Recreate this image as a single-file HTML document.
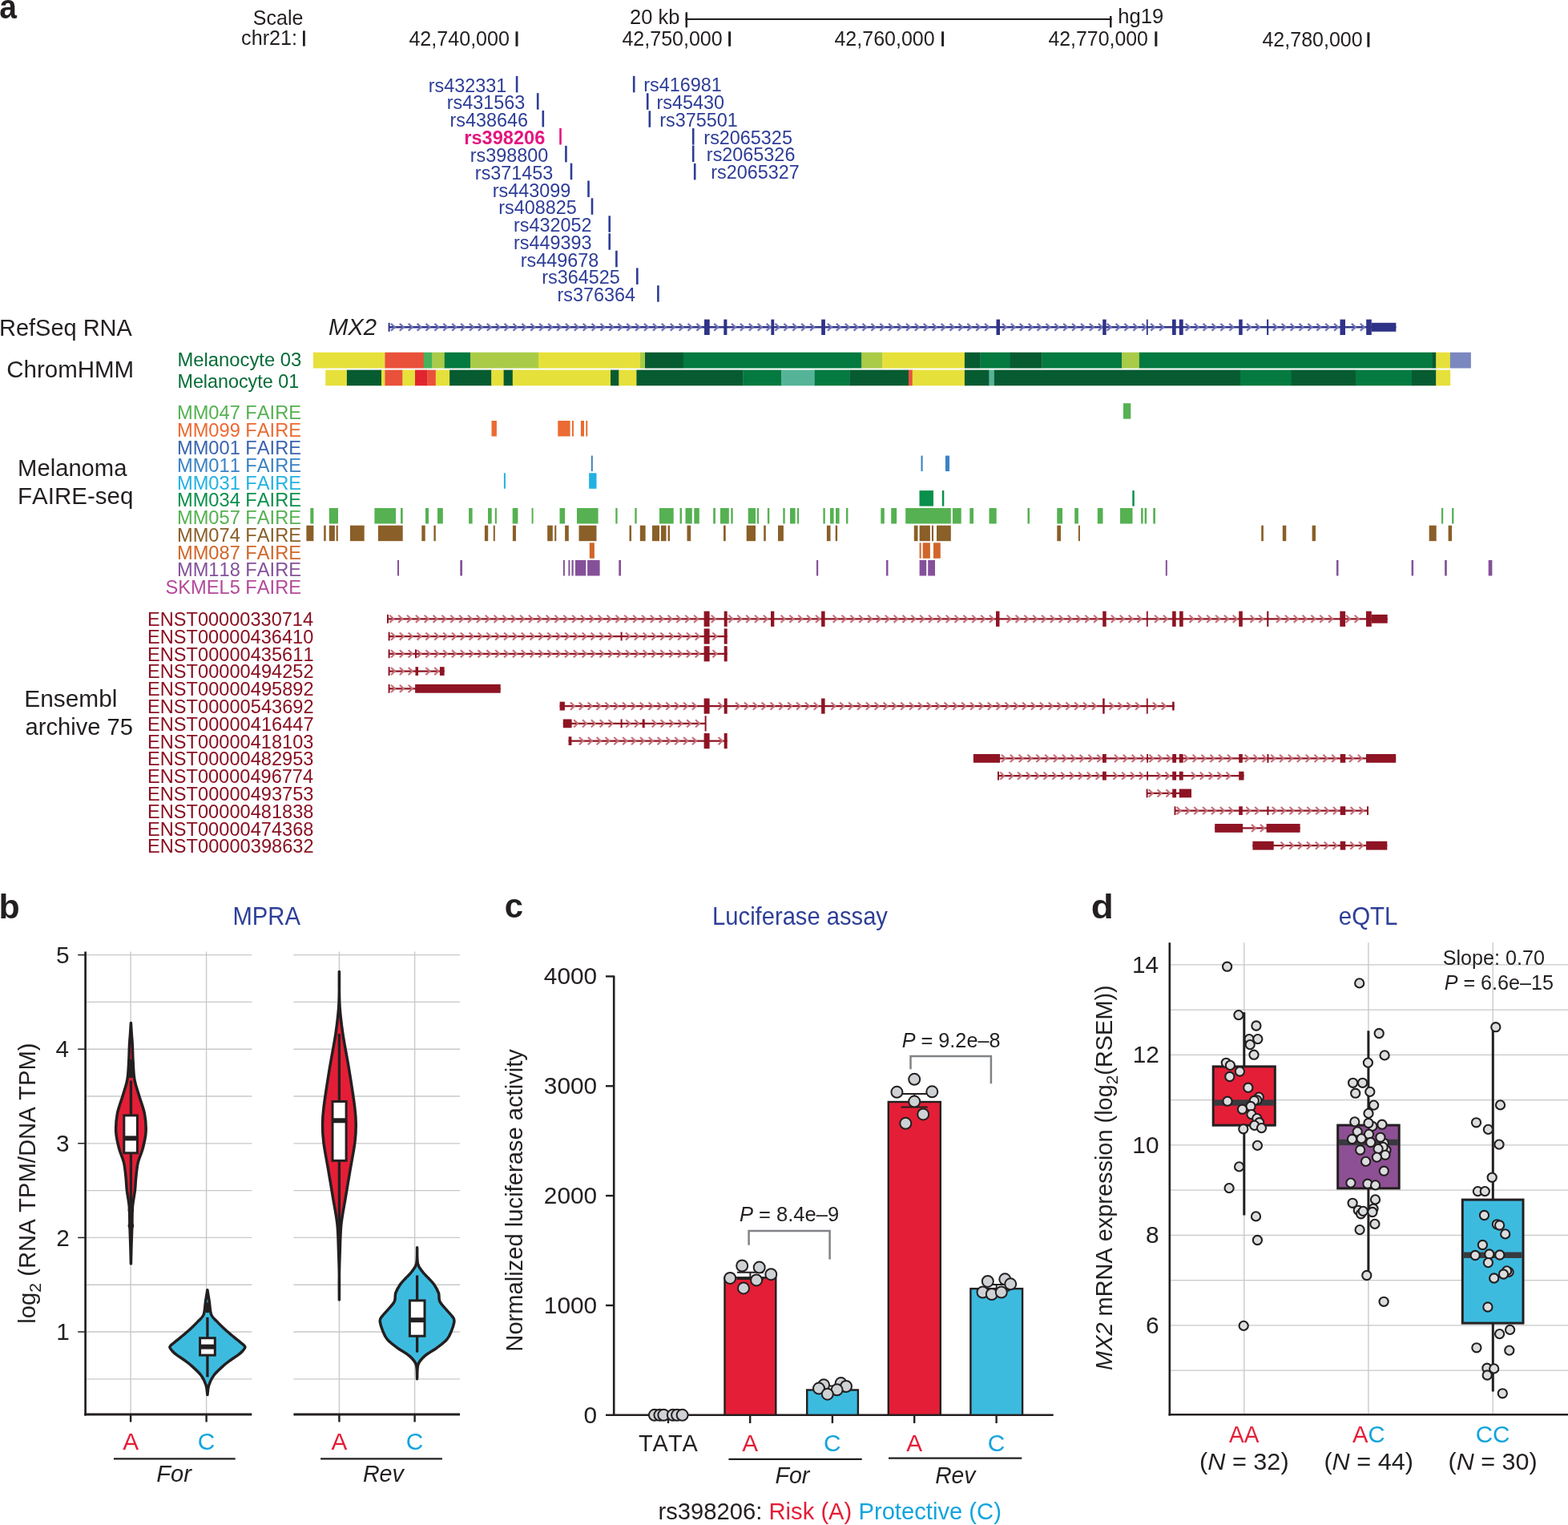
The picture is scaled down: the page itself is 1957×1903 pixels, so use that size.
<!DOCTYPE html>
<html><head><meta charset="utf-8"><title>MX2 rs398206 figure</title>
<style>
html,body{margin:0;padding:0;background:#fff;}
body{width:1957px;height:1903px;overflow:hidden;}
svg{display:block;font-family:'Liberation Sans', Arial, Helvetica, sans-serif;font-kerning:none;}
</style></head><body>
<svg width="1957" height="1903" viewBox="0 0 1957 1903" fill="#231F20">
<rect width="1957" height="1903" fill="#fff"/>
<text x="-0.84" y="22.70" font-size="42" font-weight="bold" textLength="21.70" lengthAdjust="spacingAndGlyphs">a</text>
<text x="315.86" y="31.30" font-size="25" textLength="62.55" lengthAdjust="spacingAndGlyphs">Scale</text>
<text x="786.12" y="29.50" font-size="25" textLength="62.25" lengthAdjust="spacingAndGlyphs">20 kb</text>
<rect x="855.50" y="15.30" width="2.50" height="19.00" fill="#231F20"/>
<rect x="855.50" y="22.90" width="532.00" height="2.10" fill="#231F20"/>
<rect x="1385.00" y="20.00" width="2.50" height="14.30" fill="#231F20"/>
<text x="1395.22" y="28.80" font-size="25" textLength="56.99" lengthAdjust="spacingAndGlyphs">hg19</text>
<text x="301.13" y="55.60" font-size="25" textLength="69.97" lengthAdjust="spacingAndGlyphs">chr21:</text>
<rect x="378.00" y="38.30" width="2.80" height="19.30" fill="#231F20"/>
<text x="510.42" y="56.80" font-size="25" textLength="125.56" lengthAdjust="spacingAndGlyphs">42,740,000</text>
<rect x="643.50" y="39.30" width="3.00" height="18.50" fill="#231F20"/>
<text x="776.43" y="56.80" font-size="25" textLength="125.25" lengthAdjust="spacingAndGlyphs">42,750,000</text>
<rect x="909.10" y="39.30" width="3.00" height="18.50" fill="#231F20"/>
<text x="1041.43" y="56.80" font-size="25" textLength="125.25" lengthAdjust="spacingAndGlyphs">42,760,000</text>
<rect x="1175.10" y="39.30" width="3.00" height="18.50" fill="#231F20"/>
<text x="1308.43" y="56.80" font-size="25" textLength="124.54" lengthAdjust="spacingAndGlyphs">42,770,000</text>
<rect x="1441.30" y="39.30" width="3.00" height="18.50" fill="#231F20"/>
<text x="1575.43" y="57.80" font-size="25" textLength="125.25" lengthAdjust="spacingAndGlyphs">42,780,000</text>
<rect x="1706.40" y="40.30" width="3.00" height="18.50" fill="#231F20"/>
<text x="534.75" y="114.90" font-size="23.4" fill="#2E3D97">rs432331</text>
<rect x="643.80" y="94.90" width="2.60" height="20.50" fill="#2E3D97"/>
<text x="557.65" y="136.20" font-size="23.4" fill="#2E3D97">rs431563</text>
<rect x="669.90" y="116.20" width="2.60" height="20.50" fill="#2E3D97"/>
<text x="561.45" y="157.90" font-size="23.4" fill="#2E3D97">rs438646</text>
<rect x="676.50" y="137.90" width="2.60" height="20.50" fill="#2E3D97"/>
<text x="579.25" y="179.50" font-size="23" font-weight="bold" fill="#E4157F" textLength="101.01" lengthAdjust="spacingAndGlyphs">rs398206</text>
<rect x="698.20" y="160.00" width="2.60" height="20.50" fill="#E4157F"/>
<text x="586.65" y="201.90" font-size="23.4" fill="#2E3D97">rs398800</text>
<rect x="705.10" y="181.90" width="2.60" height="20.50" fill="#2E3D97"/>
<text x="592.85" y="223.70" font-size="23.4" fill="#2E3D97">rs371453</text>
<rect x="711.70" y="203.70" width="2.60" height="20.50" fill="#2E3D97"/>
<text x="614.75" y="245.50" font-size="23.4" fill="#2E3D97">rs443099</text>
<rect x="733.20" y="225.50" width="2.60" height="20.50" fill="#2E3D97"/>
<text x="622.25" y="267.30" font-size="23.4" fill="#2E3D97">rs408825</text>
<rect x="737.70" y="247.30" width="2.60" height="20.50" fill="#2E3D97"/>
<text x="641.05" y="289.30" font-size="23.4" fill="#2E3D97">rs432052</text>
<rect x="759.40" y="269.30" width="2.60" height="20.50" fill="#2E3D97"/>
<text x="641.05" y="311.20" font-size="23.4" fill="#2E3D97">rs449393</text>
<rect x="759.40" y="291.20" width="2.60" height="20.50" fill="#2E3D97"/>
<text x="649.65" y="332.80" font-size="23.4" fill="#2E3D97">rs449678</text>
<rect x="768.10" y="312.80" width="2.60" height="20.50" fill="#2E3D97"/>
<text x="676.25" y="354.40" font-size="23.4" fill="#2E3D97">rs364525</text>
<rect x="794.00" y="334.40" width="2.60" height="20.50" fill="#2E3D97"/>
<text x="695.55" y="376.20" font-size="23.4" fill="#2E3D97">rs376364</text>
<rect x="820.10" y="356.20" width="2.60" height="20.50" fill="#2E3D97"/>
<text x="803.15" y="114.30" font-size="23.4" fill="#2E3D97">rs416981</text>
<rect x="789.90" y="94.80" width="2.60" height="20.50" fill="#2E3D97"/>
<text x="819.55" y="135.80" font-size="23.4" fill="#2E3D97">rs45430</text>
<rect x="806.90" y="116.30" width="2.60" height="20.50" fill="#2E3D97"/>
<text x="823.15" y="157.80" font-size="23.4" fill="#2E3D97">rs375501</text>
<rect x="809.50" y="138.30" width="2.60" height="20.50" fill="#2E3D97"/>
<text x="878.35" y="179.60" font-size="23.4" fill="#2E3D97">rs2065325</text>
<rect x="863.90" y="160.10" width="2.60" height="20.50" fill="#2E3D97"/>
<text x="881.85" y="201.00" font-size="23.4" fill="#2E3D97">rs2065326</text>
<rect x="863.90" y="181.50" width="2.60" height="20.50" fill="#2E3D97"/>
<text x="887.15" y="223.40" font-size="23.4" fill="#2E3D97">rs2065327</text>
<rect x="865.90" y="203.90" width="2.60" height="20.50" fill="#2E3D97"/>
<text x="-0.98" y="418.90" font-size="30" textLength="165.83" lengthAdjust="spacingAndGlyphs">RefSeq RNA</text>
<text x="409.90" y="417.90" font-size="30" font-style="italic" textLength="60.13" lengthAdjust="spacingAndGlyphs">MX2</text>
<line x1="485.40" y1="408.30" x2="1742.40" y2="408.30" stroke="#2F3388" stroke-width="2.4"/>
<path d="M487.90,403.90L492.90,408.30L487.90,412.70M498.80,403.90L503.80,408.30L498.80,412.70M509.70,403.90L514.70,408.30L509.70,412.70M520.60,403.90L525.60,408.30L520.60,412.70M531.50,403.90L536.50,408.30L531.50,412.70M542.40,403.90L547.40,408.30L542.40,412.70M553.30,403.90L558.30,408.30L553.30,412.70M564.20,403.90L569.20,408.30L564.20,412.70M575.10,403.90L580.10,408.30L575.10,412.70M586.00,403.90L591.00,408.30L586.00,412.70M596.90,403.90L601.90,408.30L596.90,412.70M607.80,403.90L612.80,408.30L607.80,412.70M618.70,403.90L623.70,408.30L618.70,412.70M629.60,403.90L634.60,408.30L629.60,412.70M640.50,403.90L645.50,408.30L640.50,412.70M651.40,403.90L656.40,408.30L651.40,412.70M662.30,403.90L667.30,408.30L662.30,412.70M673.20,403.90L678.20,408.30L673.20,412.70M684.10,403.90L689.10,408.30L684.10,412.70M695.00,403.90L700.00,408.30L695.00,412.70M705.90,403.90L710.90,408.30L705.90,412.70M716.80,403.90L721.80,408.30L716.80,412.70M727.70,403.90L732.70,408.30L727.70,412.70M738.60,403.90L743.60,408.30L738.60,412.70M749.50,403.90L754.50,408.30L749.50,412.70M760.40,403.90L765.40,408.30L760.40,412.70M771.30,403.90L776.30,408.30L771.30,412.70M782.20,403.90L787.20,408.30L782.20,412.70M793.10,403.90L798.10,408.30L793.10,412.70M804.00,403.90L809.00,408.30L804.00,412.70M814.90,403.90L819.90,408.30L814.90,412.70M825.80,403.90L830.80,408.30L825.80,412.70M836.70,403.90L841.70,408.30L836.70,412.70M847.60,403.90L852.60,408.30L847.60,412.70M858.50,403.90L863.50,408.30L858.50,412.70M869.40,403.90L874.40,408.30L869.40,412.70M891.20,403.90L896.20,408.30L891.20,412.70M913.00,403.90L918.00,408.30L913.00,412.70M923.90,403.90L928.90,408.30L923.90,412.70M934.80,403.90L939.80,408.30L934.80,412.70M945.70,403.90L950.70,408.30L945.70,412.70M956.60,403.90L961.60,408.30L956.60,412.70M967.50,403.90L972.50,408.30L967.50,412.70M978.40,403.90L983.40,408.30L978.40,412.70M989.30,403.90L994.30,408.30L989.30,412.70M1000.20,403.90L1005.20,408.30L1000.20,412.70M1011.10,403.90L1016.10,408.30L1011.10,412.70M1032.90,403.90L1037.90,408.30L1032.90,412.70M1043.80,403.90L1048.80,408.30L1043.80,412.70M1054.70,403.90L1059.70,408.30L1054.70,412.70M1065.60,403.90L1070.60,408.30L1065.60,412.70M1076.50,403.90L1081.50,408.30L1076.50,412.70M1087.40,403.90L1092.40,408.30L1087.40,412.70M1098.30,403.90L1103.30,408.30L1098.30,412.70M1109.20,403.90L1114.20,408.30L1109.20,412.70M1120.10,403.90L1125.10,408.30L1120.10,412.70M1131.00,403.90L1136.00,408.30L1131.00,412.70M1141.90,403.90L1146.90,408.30L1141.90,412.70M1152.80,403.90L1157.80,408.30L1152.80,412.70M1163.70,403.90L1168.70,408.30L1163.70,412.70M1174.60,403.90L1179.60,408.30L1174.60,412.70M1185.50,403.90L1190.50,408.30L1185.50,412.70M1196.40,403.90L1201.40,408.30L1196.40,412.70M1207.30,403.90L1212.30,408.30L1207.30,412.70M1218.20,403.90L1223.20,408.30L1218.20,412.70M1229.10,403.90L1234.10,408.30L1229.10,412.70M1250.90,403.90L1255.90,408.30L1250.90,412.70M1261.80,403.90L1266.80,408.30L1261.80,412.70M1272.70,403.90L1277.70,408.30L1272.70,412.70M1283.60,403.90L1288.60,408.30L1283.60,412.70M1294.50,403.90L1299.50,408.30L1294.50,412.70M1305.40,403.90L1310.40,408.30L1305.40,412.70M1316.30,403.90L1321.30,408.30L1316.30,412.70M1327.20,403.90L1332.20,408.30L1327.20,412.70M1338.10,403.90L1343.10,408.30L1338.10,412.70M1349.00,403.90L1354.00,408.30L1349.00,412.70M1359.90,403.90L1364.90,408.30L1359.90,412.70M1370.80,403.90L1375.80,408.30L1370.80,412.70M1381.70,403.90L1386.70,408.30L1381.70,412.70M1392.60,403.90L1397.60,408.30L1392.60,412.70M1403.50,403.90L1408.50,408.30L1403.50,412.70M1414.40,403.90L1419.40,408.30L1414.40,412.70M1425.30,403.90L1430.30,408.30L1425.30,412.70M1436.20,403.90L1441.20,408.30L1436.20,412.70M1447.10,403.90L1452.10,408.30L1447.10,412.70M1479.80,403.90L1484.80,408.30L1479.80,412.70M1490.70,403.90L1495.70,408.30L1490.70,412.70M1501.60,403.90L1506.60,408.30L1501.60,412.70M1512.50,403.90L1517.50,408.30L1512.50,412.70M1523.40,403.90L1528.40,408.30L1523.40,412.70M1534.30,403.90L1539.30,408.30L1534.30,412.70M1556.10,403.90L1561.10,408.30L1556.10,412.70M1567.00,403.90L1572.00,408.30L1567.00,412.70M1588.80,403.90L1593.80,408.30L1588.80,412.70M1599.70,403.90L1604.70,408.30L1599.70,412.70M1610.60,403.90L1615.60,408.30L1610.60,412.70M1621.50,403.90L1626.50,408.30L1621.50,412.70M1632.40,403.90L1637.40,408.30L1632.40,412.70M1643.30,403.90L1648.30,408.30L1643.30,412.70M1654.20,403.90L1659.20,408.30L1654.20,412.70M1665.10,403.90L1670.10,408.30L1665.10,412.70M1686.90,403.90L1691.90,408.30L1686.90,412.70M1697.80,403.90L1702.80,408.30L1697.80,412.70" fill="none" stroke="#6F74B6" stroke-width="2.2" stroke-linecap="butt" stroke-linejoin="miter"/>
<rect x="484.60" y="402.80" width="2.00" height="11.00" fill="#2F3388"/>
<rect x="879.00" y="398.60" width="6.70" height="19.40" fill="#2F3388"/>
<rect x="903.30" y="398.60" width="4.10" height="19.40" fill="#2F3388"/>
<rect x="962.40" y="398.60" width="3.80" height="19.40" fill="#2F3388"/>
<rect x="1025.20" y="398.60" width="4.70" height="19.40" fill="#2F3388"/>
<rect x="1243.50" y="398.60" width="4.50" height="19.40" fill="#2F3388"/>
<rect x="1376.20" y="398.60" width="4.50" height="19.40" fill="#2F3388"/>
<rect x="1430.90" y="398.60" width="1.80" height="19.40" fill="#2F3388"/>
<rect x="1463.00" y="398.60" width="4.70" height="19.40" fill="#2F3388"/>
<rect x="1471.80" y="398.60" width="4.90" height="19.40" fill="#2F3388"/>
<rect x="1546.20" y="398.60" width="4.50" height="19.40" fill="#2F3388"/>
<rect x="1581.10" y="398.60" width="2.10" height="19.40" fill="#2F3388"/>
<rect x="1672.50" y="398.60" width="6.50" height="19.40" fill="#2F3388"/>
<rect x="1705.20" y="398.60" width="6.60" height="19.40" fill="#2F3388"/>
<rect x="1711.80" y="402.80" width="30.60" height="11.00" fill="#2F3388"/>
<text x="8.20" y="471.40" font-size="30" textLength="159.02" lengthAdjust="spacingAndGlyphs">ChromHMM</text>
<text x="221.45" y="457.00" font-size="24.3" fill="#066C37" textLength="154.80" lengthAdjust="spacingAndGlyphs">Melanocyte 03</text>
<text x="221.49" y="483.60" font-size="24.3" fill="#066C37" textLength="151.65" lengthAdjust="spacingAndGlyphs">Melanocyte 01</text>
<rect x="391.00" y="439.70" width="89.70" height="19.80" fill="#E6E03B"/>
<rect x="480.40" y="439.70" width="48.60" height="19.80" fill="#E9513A"/>
<rect x="528.70" y="439.70" width="11.00" height="19.80" fill="#46B35A"/>
<rect x="539.40" y="439.70" width="15.70" height="19.80" fill="#A9CB48"/>
<rect x="554.80" y="439.70" width="32.50" height="19.80" fill="#047A40"/>
<rect x="587.00" y="439.70" width="85.30" height="19.80" fill="#A9CB48"/>
<rect x="672.00" y="439.70" width="127.30" height="19.80" fill="#E6E03B"/>
<rect x="799.00" y="439.70" width="6.30" height="19.80" fill="#A9CB48"/>
<rect x="805.00" y="439.70" width="48.10" height="19.80" fill="#075B31"/>
<rect x="852.80" y="439.70" width="222.80" height="19.80" fill="#047A40"/>
<rect x="1075.30" y="439.70" width="26.20" height="19.80" fill="#A9CB48"/>
<rect x="1101.20" y="439.70" width="103.00" height="19.80" fill="#E6E03B"/>
<rect x="1203.90" y="439.70" width="19.90" height="19.80" fill="#075B31"/>
<rect x="1223.50" y="439.70" width="37.60" height="19.80" fill="#047A40"/>
<rect x="1260.80" y="439.70" width="39.70" height="19.80" fill="#075B31"/>
<rect x="1300.20" y="439.70" width="100.20" height="19.80" fill="#047A40"/>
<rect x="1400.10" y="439.70" width="22.10" height="19.80" fill="#A9CB48"/>
<rect x="1421.90" y="439.70" width="366.20" height="19.80" fill="#047A40"/>
<rect x="1787.80" y="439.70" width="4.80" height="19.80" fill="#075B31"/>
<rect x="1792.30" y="439.70" width="17.90" height="19.80" fill="#E6E03B"/>
<rect x="1809.90" y="439.70" width="26.00" height="19.80" fill="#7B88BF"/>
<rect x="406.30" y="461.60" width="26.90" height="19.70" fill="#E6E03B"/>
<rect x="432.90" y="461.60" width="43.40" height="19.70" fill="#075B31"/>
<rect x="476.00" y="461.60" width="4.70" height="19.70" fill="#E6E03B"/>
<rect x="480.40" y="461.60" width="22.30" height="19.70" fill="#E9513A"/>
<rect x="502.40" y="461.60" width="15.90" height="19.70" fill="#E6E03B"/>
<rect x="518.00" y="461.60" width="15.60" height="19.70" fill="#E2242F"/>
<rect x="533.30" y="461.60" width="10.80" height="19.70" fill="#E9513A"/>
<rect x="543.80" y="461.60" width="17.60" height="19.70" fill="#E6E03B"/>
<rect x="561.10" y="461.60" width="52.50" height="19.70" fill="#075B31"/>
<rect x="613.30" y="461.60" width="15.60" height="19.70" fill="#E6E03B"/>
<rect x="628.60" y="461.60" width="11.50" height="19.70" fill="#075B31"/>
<rect x="639.80" y="461.60" width="122.50" height="19.70" fill="#E6E03B"/>
<rect x="762.00" y="461.60" width="10.70" height="19.70" fill="#075B31"/>
<rect x="772.40" y="461.60" width="22.30" height="19.70" fill="#E6E03B"/>
<rect x="794.40" y="461.60" width="133.10" height="19.70" fill="#075B31"/>
<rect x="927.20" y="461.60" width="48.30" height="19.70" fill="#047A40"/>
<rect x="975.20" y="461.60" width="41.90" height="19.70" fill="#55B497"/>
<rect x="1016.80" y="461.60" width="43.80" height="19.70" fill="#047A40"/>
<rect x="1060.30" y="461.60" width="74.10" height="19.70" fill="#075B31"/>
<rect x="1134.10" y="461.60" width="4.90" height="19.70" fill="#E9513A"/>
<rect x="1138.70" y="461.60" width="65.50" height="19.70" fill="#E6E03B"/>
<rect x="1203.90" y="461.60" width="30.90" height="19.70" fill="#075B31"/>
<rect x="1234.50" y="461.60" width="6.70" height="19.70" fill="#55B497"/>
<rect x="1240.90" y="461.60" width="307.30" height="19.70" fill="#075B31"/>
<rect x="1547.90" y="461.60" width="64.10" height="19.70" fill="#047A40"/>
<rect x="1611.70" y="461.60" width="80.50" height="19.70" fill="#075B31"/>
<rect x="1691.90" y="461.60" width="70.40" height="19.70" fill="#047A40"/>
<rect x="1762.00" y="461.60" width="30.60" height="19.70" fill="#075B31"/>
<rect x="1792.30" y="461.60" width="17.90" height="19.70" fill="#E6E03B"/>
<text x="22.11" y="593.70" font-size="30" textLength="136.29" lengthAdjust="spacingAndGlyphs">Melanoma</text>
<text x="22.08" y="628.90" font-size="30" textLength="144.31" lengthAdjust="spacingAndGlyphs">FAIRE-seq</text>
<text x="220.94" y="523.30" font-size="24.3" fill="#55B152" textLength="155.08" lengthAdjust="spacingAndGlyphs">MM047 FAIRE</text>
<text x="220.94" y="545.10" font-size="24.3" fill="#EC6A33" textLength="155.08" lengthAdjust="spacingAndGlyphs">MM099 FAIRE</text>
<text x="220.94" y="566.90" font-size="24.3" fill="#3A64AF" textLength="155.08" lengthAdjust="spacingAndGlyphs">MM001 FAIRE</text>
<text x="220.94" y="588.70" font-size="24.3" fill="#3A82C4" textLength="155.08" lengthAdjust="spacingAndGlyphs">MM011 FAIRE</text>
<text x="220.94" y="610.50" font-size="24.3" fill="#22B2E2" textLength="155.08" lengthAdjust="spacingAndGlyphs">MM031 FAIRE</text>
<text x="220.94" y="632.30" font-size="24.3" fill="#09904C" textLength="155.08" lengthAdjust="spacingAndGlyphs">MM034 FAIRE</text>
<text x="220.94" y="654.00" font-size="24.3" fill="#55B152" textLength="155.08" lengthAdjust="spacingAndGlyphs">MM057 FAIRE</text>
<text x="220.94" y="675.80" font-size="24.3" fill="#8A5F28" textLength="155.08" lengthAdjust="spacingAndGlyphs">MM074 FAIRE</text>
<text x="220.94" y="697.60" font-size="24.3" fill="#D1662A" textLength="155.08" lengthAdjust="spacingAndGlyphs">MM087 FAIRE</text>
<text x="220.94" y="719.40" font-size="24.3" fill="#85509A" textLength="155.08" lengthAdjust="spacingAndGlyphs">MM118 FAIRE</text>
<text x="206.47" y="741.10" font-size="24.3" fill="#B34A9A" textLength="169.55" lengthAdjust="spacingAndGlyphs">SKMEL5 FAIRE</text>
<rect x="1402.00" y="503.20" width="9.30" height="19.50" fill="#55B152"/>
<rect x="613.50" y="525.00" width="6.40" height="19.50" fill="#EC6A33"/>
<rect x="696.30" y="525.00" width="15.30" height="19.50" fill="#EC6A33"/>
<rect x="713.90" y="525.00" width="2.00" height="19.50" fill="#EC6A33"/>
<rect x="724.90" y="525.00" width="4.10" height="19.50" fill="#EC6A33"/>
<rect x="731.30" y="525.00" width="2.00" height="19.50" fill="#EC6A33"/>
<rect x="737.80" y="568.60" width="2.00" height="19.50" fill="#3A82C4"/>
<rect x="1149.50" y="568.60" width="2.10" height="19.50" fill="#3A82C4"/>
<rect x="1179.90" y="568.60" width="5.10" height="19.50" fill="#3A82C4"/>
<rect x="628.90" y="590.30" width="2.00" height="19.50" fill="#22B2E2"/>
<rect x="735.10" y="590.30" width="9.40" height="19.50" fill="#22B2E2"/>
<rect x="1147.50" y="612.10" width="17.50" height="19.50" fill="#09904C"/>
<rect x="1175.80" y="612.10" width="2.50" height="19.50" fill="#09904C"/>
<rect x="1413.30" y="612.10" width="2.50" height="19.50" fill="#09904C"/>
<rect x="387.30" y="634.00" width="4.10" height="19.50" fill="#55B152"/>
<rect x="410.80" y="634.00" width="11.20" height="19.50" fill="#55B152"/>
<rect x="467.40" y="634.00" width="26.60" height="19.50" fill="#55B152"/>
<rect x="500.00" y="634.00" width="2.70" height="19.50" fill="#55B152"/>
<rect x="531.00" y="634.00" width="4.00" height="19.50" fill="#55B152"/>
<rect x="546.00" y="634.00" width="6.80" height="19.50" fill="#55B152"/>
<rect x="585.10" y="634.00" width="4.50" height="19.50" fill="#55B152"/>
<rect x="609.00" y="634.00" width="4.70" height="19.50" fill="#55B152"/>
<rect x="617.80" y="634.00" width="2.10" height="19.50" fill="#55B152"/>
<rect x="639.70" y="634.00" width="6.70" height="19.50" fill="#55B152"/>
<rect x="663.60" y="634.00" width="2.00" height="19.50" fill="#55B152"/>
<rect x="698.50" y="634.00" width="6.60" height="19.50" fill="#55B152"/>
<rect x="720.00" y="634.00" width="26.60" height="19.50" fill="#55B152"/>
<rect x="768.30" y="634.00" width="2.30" height="19.50" fill="#55B152"/>
<rect x="792.30" y="634.00" width="2.40" height="19.50" fill="#55B152"/>
<rect x="823.00" y="634.00" width="17.70" height="19.50" fill="#55B152"/>
<rect x="848.50" y="634.00" width="2.50" height="19.50" fill="#55B152"/>
<rect x="855.50" y="634.00" width="8.30" height="19.50" fill="#55B152"/>
<rect x="866.30" y="634.00" width="6.50" height="19.50" fill="#55B152"/>
<rect x="890.20" y="634.00" width="2.70" height="19.50" fill="#55B152"/>
<rect x="899.00" y="634.00" width="10.80" height="19.50" fill="#55B152"/>
<rect x="912.30" y="634.00" width="2.40" height="19.50" fill="#55B152"/>
<rect x="933.70" y="634.00" width="9.30" height="19.50" fill="#55B152"/>
<rect x="945.00" y="634.00" width="2.00" height="19.50" fill="#55B152"/>
<rect x="957.90" y="634.00" width="2.40" height="19.50" fill="#55B152"/>
<rect x="977.30" y="634.00" width="2.40" height="19.50" fill="#55B152"/>
<rect x="986.00" y="634.00" width="6.60" height="19.50" fill="#55B152"/>
<rect x="995.00" y="634.00" width="2.10" height="19.50" fill="#55B152"/>
<rect x="1027.40" y="634.00" width="2.40" height="19.50" fill="#55B152"/>
<rect x="1036.00" y="634.00" width="4.60" height="19.50" fill="#55B152"/>
<rect x="1043.00" y="634.00" width="4.60" height="19.50" fill="#55B152"/>
<rect x="1056.00" y="634.00" width="2.40" height="19.50" fill="#55B152"/>
<rect x="1099.30" y="634.00" width="4.50" height="19.50" fill="#55B152"/>
<rect x="1112.20" y="634.00" width="6.90" height="19.50" fill="#55B152"/>
<rect x="1130.20" y="634.00" width="56.60" height="19.50" fill="#55B152"/>
<rect x="1188.90" y="634.00" width="10.80" height="19.50" fill="#55B152"/>
<rect x="1210.30" y="634.00" width="4.70" height="19.50" fill="#55B152"/>
<rect x="1234.50" y="634.00" width="9.20" height="19.50" fill="#55B152"/>
<rect x="1282.50" y="634.00" width="2.50" height="19.50" fill="#55B152"/>
<rect x="1319.30" y="634.00" width="6.70" height="19.50" fill="#55B152"/>
<rect x="1341.20" y="634.00" width="4.70" height="19.50" fill="#55B152"/>
<rect x="1369.80" y="634.00" width="6.70" height="19.50" fill="#55B152"/>
<rect x="1398.00" y="634.00" width="15.50" height="19.50" fill="#55B152"/>
<rect x="1424.10" y="634.00" width="2.50" height="19.50" fill="#55B152"/>
<rect x="1428.60" y="634.00" width="2.50" height="19.50" fill="#55B152"/>
<rect x="1439.30" y="634.00" width="2.60" height="19.50" fill="#55B152"/>
<rect x="1799.00" y="634.00" width="2.20" height="19.50" fill="#55B152"/>
<rect x="1812.10" y="634.00" width="2.30" height="19.50" fill="#55B152"/>
<rect x="382.40" y="655.70" width="9.00" height="19.50" fill="#8A5F28"/>
<rect x="404.20" y="655.70" width="2.50" height="19.50" fill="#8A5F28"/>
<rect x="410.80" y="655.70" width="7.10" height="19.50" fill="#8A5F28"/>
<rect x="419.60" y="655.70" width="2.20" height="19.50" fill="#8A5F28"/>
<rect x="436.90" y="655.70" width="17.80" height="19.50" fill="#8A5F28"/>
<rect x="471.90" y="655.70" width="30.80" height="19.50" fill="#8A5F28"/>
<rect x="526.30" y="655.70" width="4.40" height="19.50" fill="#8A5F28"/>
<rect x="541.40" y="655.70" width="2.40" height="19.50" fill="#8A5F28"/>
<rect x="604.90" y="655.70" width="4.30" height="19.50" fill="#8A5F28"/>
<rect x="615.80" y="655.70" width="2.00" height="19.50" fill="#8A5F28"/>
<rect x="639.90" y="655.70" width="4.10" height="19.50" fill="#8A5F28"/>
<rect x="683.20" y="655.70" width="6.60" height="19.50" fill="#8A5F28"/>
<rect x="692.20" y="655.70" width="2.10" height="19.50" fill="#8A5F28"/>
<rect x="705.10" y="655.70" width="4.70" height="19.50" fill="#8A5F28"/>
<rect x="722.50" y="655.70" width="22.00" height="19.50" fill="#8A5F28"/>
<rect x="785.50" y="655.70" width="2.50" height="19.50" fill="#8A5F28"/>
<rect x="798.80" y="655.70" width="6.80" height="19.50" fill="#8A5F28"/>
<rect x="814.00" y="655.70" width="9.00" height="19.50" fill="#8A5F28"/>
<rect x="825.00" y="655.70" width="6.50" height="19.50" fill="#8A5F28"/>
<rect x="833.60" y="655.70" width="2.40" height="19.50" fill="#8A5F28"/>
<rect x="857.50" y="655.70" width="4.70" height="19.50" fill="#8A5F28"/>
<rect x="903.00" y="655.70" width="2.70" height="19.50" fill="#8A5F28"/>
<rect x="931.70" y="655.70" width="11.30" height="19.50" fill="#8A5F28"/>
<rect x="953.20" y="655.70" width="2.60" height="19.50" fill="#8A5F28"/>
<rect x="971.00" y="655.70" width="6.90" height="19.50" fill="#8A5F28"/>
<rect x="1031.90" y="655.70" width="4.60" height="19.50" fill="#8A5F28"/>
<rect x="1042.70" y="655.70" width="2.40" height="19.50" fill="#8A5F28"/>
<rect x="1140.80" y="655.70" width="4.70" height="19.50" fill="#8A5F28"/>
<rect x="1147.60" y="655.70" width="13.30" height="19.50" fill="#8A5F28"/>
<rect x="1162.90" y="655.70" width="2.10" height="19.50" fill="#8A5F28"/>
<rect x="1169.00" y="655.70" width="17.80" height="19.50" fill="#8A5F28"/>
<rect x="1319.30" y="655.70" width="4.70" height="19.50" fill="#8A5F28"/>
<rect x="1345.90" y="655.70" width="2.00" height="19.50" fill="#8A5F28"/>
<rect x="1574.20" y="655.70" width="2.70" height="19.50" fill="#8A5F28"/>
<rect x="1600.80" y="655.70" width="4.50" height="19.50" fill="#8A5F28"/>
<rect x="1637.60" y="655.70" width="4.40" height="19.50" fill="#8A5F28"/>
<rect x="1783.70" y="655.70" width="9.00" height="19.50" fill="#8A5F28"/>
<rect x="1807.60" y="655.70" width="4.50" height="19.50" fill="#8A5F28"/>
<rect x="735.80" y="677.30" width="6.10" height="19.50" fill="#D1662A"/>
<rect x="1147.60" y="677.30" width="2.00" height="19.50" fill="#D1662A"/>
<rect x="1151.70" y="677.30" width="9.20" height="19.50" fill="#D1662A"/>
<rect x="1165.00" y="677.30" width="8.80" height="19.50" fill="#D1662A"/>
<rect x="496.00" y="699.00" width="2.00" height="19.50" fill="#85509A"/>
<rect x="574.30" y="699.00" width="2.70" height="19.50" fill="#85509A"/>
<rect x="702.90" y="699.00" width="2.00" height="19.50" fill="#85509A"/>
<rect x="709.40" y="699.00" width="2.00" height="19.50" fill="#85509A"/>
<rect x="713.50" y="699.00" width="2.20" height="19.50" fill="#85509A"/>
<rect x="718.00" y="699.00" width="13.30" height="19.50" fill="#85509A"/>
<rect x="733.10" y="699.00" width="15.50" height="19.50" fill="#85509A"/>
<rect x="772.30" y="699.00" width="2.70" height="19.50" fill="#85509A"/>
<rect x="1019.00" y="699.00" width="2.20" height="19.50" fill="#85509A"/>
<rect x="1106.00" y="699.00" width="2.50" height="19.50" fill="#85509A"/>
<rect x="1147.60" y="699.00" width="8.60" height="19.50" fill="#85509A"/>
<rect x="1158.20" y="699.00" width="8.80" height="19.50" fill="#85509A"/>
<rect x="1454.80" y="699.00" width="2.00" height="19.50" fill="#85509A"/>
<rect x="1668.00" y="699.00" width="2.50" height="19.50" fill="#85509A"/>
<rect x="1761.60" y="699.00" width="2.50" height="19.50" fill="#85509A"/>
<rect x="1803.10" y="699.00" width="2.70" height="19.50" fill="#85509A"/>
<rect x="1857.70" y="699.00" width="4.70" height="19.50" fill="#85509A"/>
<text x="30.25" y="881.50" font-size="30" textLength="116.15" lengthAdjust="spacingAndGlyphs">Ensembl</text>
<text x="31.46" y="916.50" font-size="30" textLength="134.56" lengthAdjust="spacingAndGlyphs">archive 75</text>
<text x="184.07" y="781.10" font-size="24.3" fill="#8A1022" textLength="207.02" lengthAdjust="spacingAndGlyphs">ENST00000330714</text>
<text x="184.06" y="802.89" font-size="24.3" fill="#8A1022" textLength="207.26" lengthAdjust="spacingAndGlyphs">ENST00000436410</text>
<text x="184.06" y="824.68" font-size="24.3" fill="#8A1022" textLength="207.49" lengthAdjust="spacingAndGlyphs">ENST00000435611</text>
<text x="184.06" y="846.47" font-size="24.3" fill="#8A1022" textLength="207.53" lengthAdjust="spacingAndGlyphs">ENST00000494252</text>
<text x="184.06" y="868.26" font-size="24.3" fill="#8A1022" textLength="207.53" lengthAdjust="spacingAndGlyphs">ENST00000495892</text>
<text x="184.06" y="890.05" font-size="24.3" fill="#8A1022" textLength="207.53" lengthAdjust="spacingAndGlyphs">ENST00000543692</text>
<text x="184.06" y="911.84" font-size="24.3" fill="#8A1022" textLength="207.53" lengthAdjust="spacingAndGlyphs">ENST00000416447</text>
<text x="184.06" y="933.63" font-size="24.3" fill="#8A1022" textLength="207.37" lengthAdjust="spacingAndGlyphs">ENST00000418103</text>
<text x="184.06" y="955.42" font-size="24.3" fill="#8A1022" textLength="207.37" lengthAdjust="spacingAndGlyphs">ENST00000482953</text>
<text x="184.07" y="977.21" font-size="24.3" fill="#8A1022" textLength="207.02" lengthAdjust="spacingAndGlyphs">ENST00000496774</text>
<text x="184.06" y="999.00" font-size="24.3" fill="#8A1022" textLength="207.37" lengthAdjust="spacingAndGlyphs">ENST00000493753</text>
<text x="184.06" y="1020.79" font-size="24.3" fill="#8A1022" textLength="207.36" lengthAdjust="spacingAndGlyphs">ENST00000481838</text>
<text x="184.06" y="1042.58" font-size="24.3" fill="#8A1022" textLength="207.36" lengthAdjust="spacingAndGlyphs">ENST00000474368</text>
<text x="184.06" y="1064.37" font-size="24.3" fill="#8A1022" textLength="207.53" lengthAdjust="spacingAndGlyphs">ENST00000398632</text>
<line x1="483.80" y1="772.30" x2="1731.70" y2="772.30" stroke="#8E1424" stroke-width="2.2"/>
<path d="M486.30,767.70L491.30,772.30L486.30,776.90M497.15,767.70L502.15,772.30L497.15,776.90M508.00,767.70L513.00,772.30L508.00,776.90M518.85,767.70L523.85,772.30L518.85,776.90M529.70,767.70L534.70,772.30L529.70,776.90M540.55,767.70L545.55,772.30L540.55,776.90M551.40,767.70L556.40,772.30L551.40,776.90M562.25,767.70L567.25,772.30L562.25,776.90M573.10,767.70L578.10,772.30L573.10,776.90M583.95,767.70L588.95,772.30L583.95,776.90M594.80,767.70L599.80,772.30L594.80,776.90M605.65,767.70L610.65,772.30L605.65,776.90M616.50,767.70L621.50,772.30L616.50,776.90M627.35,767.70L632.35,772.30L627.35,776.90M638.20,767.70L643.20,772.30L638.20,776.90M649.05,767.70L654.05,772.30L649.05,776.90M659.90,767.70L664.90,772.30L659.90,776.90M670.75,767.70L675.75,772.30L670.75,776.90M681.60,767.70L686.60,772.30L681.60,776.90M692.45,767.70L697.45,772.30L692.45,776.90M703.30,767.70L708.30,772.30L703.30,776.90M714.15,767.70L719.15,772.30L714.15,776.90M725.00,767.70L730.00,772.30L725.00,776.90M735.85,767.70L740.85,772.30L735.85,776.90M746.70,767.70L751.70,772.30L746.70,776.90M757.55,767.70L762.55,772.30L757.55,776.90M768.40,767.70L773.40,772.30L768.40,776.90M779.25,767.70L784.25,772.30L779.25,776.90M790.10,767.70L795.10,772.30L790.10,776.90M800.95,767.70L805.95,772.30L800.95,776.90M811.80,767.70L816.80,772.30L811.80,776.90M822.65,767.70L827.65,772.30L822.65,776.90M833.50,767.70L838.50,772.30L833.50,776.90M844.35,767.70L849.35,772.30L844.35,776.90M855.20,767.70L860.20,772.30L855.20,776.90M866.05,767.70L871.05,772.30L866.05,776.90M887.75,767.70L892.75,772.30L887.75,776.90M909.45,767.70L914.45,772.30L909.45,776.90M920.30,767.70L925.30,772.30L920.30,776.90M931.15,767.70L936.15,772.30L931.15,776.90M942.00,767.70L947.00,772.30L942.00,776.90M952.85,767.70L957.85,772.30L952.85,776.90M974.55,767.70L979.55,772.30L974.55,776.90M985.40,767.70L990.40,772.30L985.40,776.90M996.25,767.70L1001.25,772.30L996.25,776.90M1007.10,767.70L1012.10,772.30L1007.10,776.90M1017.95,767.70L1022.95,772.30L1017.95,776.90M1039.65,767.70L1044.65,772.30L1039.65,776.90M1050.50,767.70L1055.50,772.30L1050.50,776.90M1061.35,767.70L1066.35,772.30L1061.35,776.90M1072.20,767.70L1077.20,772.30L1072.20,776.90M1083.05,767.70L1088.05,772.30L1083.05,776.90M1093.90,767.70L1098.90,772.30L1093.90,776.90M1104.75,767.70L1109.75,772.30L1104.75,776.90M1115.60,767.70L1120.60,772.30L1115.60,776.90M1126.45,767.70L1131.45,772.30L1126.45,776.90M1137.30,767.70L1142.30,772.30L1137.30,776.90M1148.15,767.70L1153.15,772.30L1148.15,776.90M1159.00,767.70L1164.00,772.30L1159.00,776.90M1169.85,767.70L1174.85,772.30L1169.85,776.90M1180.70,767.70L1185.70,772.30L1180.70,776.90M1191.55,767.70L1196.55,772.30L1191.55,776.90M1202.40,767.70L1207.40,772.30L1202.40,776.90M1213.25,767.70L1218.25,772.30L1213.25,776.90M1224.10,767.70L1229.10,772.30L1224.10,776.90M1234.95,767.70L1239.95,772.30L1234.95,776.90M1256.65,767.70L1261.65,772.30L1256.65,776.90M1267.50,767.70L1272.50,772.30L1267.50,776.90M1278.35,767.70L1283.35,772.30L1278.35,776.90M1289.20,767.70L1294.20,772.30L1289.20,776.90M1300.05,767.70L1305.05,772.30L1300.05,776.90M1310.90,767.70L1315.90,772.30L1310.90,776.90M1321.75,767.70L1326.75,772.30L1321.75,776.90M1332.60,767.70L1337.60,772.30L1332.60,776.90M1343.45,767.70L1348.45,772.30L1343.45,776.90M1354.30,767.70L1359.30,772.30L1354.30,776.90M1365.15,767.70L1370.15,772.30L1365.15,776.90M1386.85,767.70L1391.85,772.30L1386.85,776.90M1397.70,767.70L1402.70,772.30L1397.70,776.90M1408.55,767.70L1413.55,772.30L1408.55,776.90M1419.40,767.70L1424.40,772.30L1419.40,776.90M1441.10,767.70L1446.10,772.30L1441.10,776.90M1451.95,767.70L1456.95,772.30L1451.95,776.90M1484.50,767.70L1489.50,772.30L1484.50,776.90M1495.35,767.70L1500.35,772.30L1495.35,776.90M1506.20,767.70L1511.20,772.30L1506.20,776.90M1517.05,767.70L1522.05,772.30L1517.05,776.90M1527.90,767.70L1532.90,772.30L1527.90,776.90M1538.75,767.70L1543.75,772.30L1538.75,776.90M1560.45,767.70L1565.45,772.30L1560.45,776.90M1571.30,767.70L1576.30,772.30L1571.30,776.90M1593.00,767.70L1598.00,772.30L1593.00,776.90M1603.85,767.70L1608.85,772.30L1603.85,776.90M1614.70,767.70L1619.70,772.30L1614.70,776.90M1625.55,767.70L1630.55,772.30L1625.55,776.90M1636.40,767.70L1641.40,772.30L1636.40,776.90M1647.25,767.70L1652.25,772.30L1647.25,776.90M1658.10,767.70L1663.10,772.30L1658.10,776.90M1679.80,767.70L1684.80,772.30L1679.80,776.90M1690.65,767.70L1695.65,772.30L1690.65,776.90" fill="none" stroke="#C5707A" stroke-width="2.2" stroke-linecap="butt" stroke-linejoin="miter"/>
<rect x="483.00" y="766.90" width="2.00" height="10.80" fill="#8E1424"/>
<rect x="878.60" y="762.70" width="7.00" height="19.20" fill="#8E1424"/>
<rect x="903.70" y="762.70" width="4.00" height="19.20" fill="#8E1424"/>
<rect x="962.00" y="762.70" width="4.30" height="19.20" fill="#8E1424"/>
<rect x="1025.10" y="762.70" width="4.50" height="19.20" fill="#8E1424"/>
<rect x="1243.00" y="762.70" width="4.50" height="19.20" fill="#8E1424"/>
<rect x="1376.20" y="762.70" width="4.50" height="19.20" fill="#8E1424"/>
<rect x="1430.90" y="762.70" width="1.80" height="19.20" fill="#8E1424"/>
<rect x="1463.10" y="762.70" width="4.60" height="19.20" fill="#8E1424"/>
<rect x="1472.10" y="762.70" width="4.60" height="19.20" fill="#8E1424"/>
<rect x="1546.20" y="762.70" width="4.60" height="19.20" fill="#8E1424"/>
<rect x="1581.20" y="762.70" width="2.20" height="19.20" fill="#8E1424"/>
<rect x="1672.30" y="762.70" width="6.80" height="19.20" fill="#8E1424"/>
<rect x="1705.00" y="762.70" width="6.80" height="19.20" fill="#8E1424"/>
<rect x="1711.80" y="766.90" width="19.90" height="10.80" fill="#8E1424"/>
<line x1="485.50" y1="794.06" x2="907.70" y2="794.06" stroke="#8E1424" stroke-width="2.2"/>
<path d="M488.00,789.46L493.00,794.06L488.00,798.66M498.85,789.46L503.85,794.06L498.85,798.66M509.70,789.46L514.70,794.06L509.70,798.66M520.55,789.46L525.55,794.06L520.55,798.66M531.40,789.46L536.40,794.06L531.40,798.66M542.25,789.46L547.25,794.06L542.25,798.66M553.10,789.46L558.10,794.06L553.10,798.66M563.95,789.46L568.95,794.06L563.95,798.66M574.80,789.46L579.80,794.06L574.80,798.66M585.65,789.46L590.65,794.06L585.65,798.66M596.50,789.46L601.50,794.06L596.50,798.66M607.35,789.46L612.35,794.06L607.35,798.66M618.20,789.46L623.20,794.06L618.20,798.66M629.05,789.46L634.05,794.06L629.05,798.66M639.90,789.46L644.90,794.06L639.90,798.66M650.75,789.46L655.75,794.06L650.75,798.66M661.60,789.46L666.60,794.06L661.60,798.66M672.45,789.46L677.45,794.06L672.45,798.66M683.30,789.46L688.30,794.06L683.30,798.66M694.15,789.46L699.15,794.06L694.15,798.66M705.00,789.46L710.00,794.06L705.00,798.66M715.85,789.46L720.85,794.06L715.85,798.66M726.70,789.46L731.70,794.06L726.70,798.66M737.55,789.46L742.55,794.06L737.55,798.66M748.40,789.46L753.40,794.06L748.40,798.66M759.25,789.46L764.25,794.06L759.25,798.66M780.95,789.46L785.95,794.06L780.95,798.66M791.80,789.46L796.80,794.06L791.80,798.66M802.65,789.46L807.65,794.06L802.65,798.66M813.50,789.46L818.50,794.06L813.50,798.66M824.35,789.46L829.35,794.06L824.35,798.66M835.20,789.46L840.20,794.06L835.20,798.66M846.05,789.46L851.05,794.06L846.05,798.66M856.90,789.46L861.90,794.06L856.90,798.66M867.75,789.46L872.75,794.06L867.75,798.66M889.45,789.46L894.45,794.06L889.45,798.66" fill="none" stroke="#C5707A" stroke-width="2.2" stroke-linecap="butt" stroke-linejoin="miter"/>
<rect x="484.60" y="788.66" width="2.00" height="10.80" fill="#8E1424"/>
<rect x="774.60" y="788.66" width="2.00" height="10.80" fill="#8E1424"/>
<rect x="878.60" y="784.46" width="7.00" height="19.20" fill="#8E1424"/>
<rect x="903.70" y="784.46" width="4.00" height="19.20" fill="#8E1424"/>
<line x1="485.50" y1="815.82" x2="907.70" y2="815.82" stroke="#8E1424" stroke-width="2.2"/>
<path d="M488.00,811.22L493.00,815.82L488.00,820.42M498.85,811.22L503.85,815.82L498.85,820.42M509.70,811.22L514.70,815.82L509.70,820.42M520.55,811.22L525.55,815.82L520.55,820.42M531.40,811.22L536.40,815.82L531.40,820.42M542.25,811.22L547.25,815.82L542.25,820.42M553.10,811.22L558.10,815.82L553.10,820.42M563.95,811.22L568.95,815.82L563.95,820.42M574.80,811.22L579.80,815.82L574.80,820.42M585.65,811.22L590.65,815.82L585.65,820.42M596.50,811.22L601.50,815.82L596.50,820.42M607.35,811.22L612.35,815.82L607.35,820.42M618.20,811.22L623.20,815.82L618.20,820.42M629.05,811.22L634.05,815.82L629.05,820.42M639.90,811.22L644.90,815.82L639.90,820.42M650.75,811.22L655.75,815.82L650.75,820.42M661.60,811.22L666.60,815.82L661.60,820.42M672.45,811.22L677.45,815.82L672.45,820.42M683.30,811.22L688.30,815.82L683.30,820.42M694.15,811.22L699.15,815.82L694.15,820.42M705.00,811.22L710.00,815.82L705.00,820.42M715.85,811.22L720.85,815.82L715.85,820.42M726.70,811.22L731.70,815.82L726.70,820.42M737.55,811.22L742.55,815.82L737.55,820.42M748.40,811.22L753.40,815.82L748.40,820.42M759.25,811.22L764.25,815.82L759.25,820.42M770.10,811.22L775.10,815.82L770.10,820.42M780.95,811.22L785.95,815.82L780.95,820.42M791.80,811.22L796.80,815.82L791.80,820.42M802.65,811.22L807.65,815.82L802.65,820.42M813.50,811.22L818.50,815.82L813.50,820.42M824.35,811.22L829.35,815.82L824.35,820.42M835.20,811.22L840.20,815.82L835.20,820.42M846.05,811.22L851.05,815.82L846.05,820.42M856.90,811.22L861.90,815.82L856.90,820.42M867.75,811.22L872.75,815.82L867.75,820.42M889.45,811.22L894.45,815.82L889.45,820.42" fill="none" stroke="#C5707A" stroke-width="2.2" stroke-linecap="butt" stroke-linejoin="miter"/>
<rect x="484.60" y="810.42" width="2.00" height="10.80" fill="#8E1424"/>
<rect x="518.00" y="810.42" width="2.00" height="10.80" fill="#8E1424"/>
<rect x="878.60" y="806.22" width="7.00" height="19.20" fill="#8E1424"/>
<rect x="903.70" y="806.22" width="4.00" height="19.20" fill="#8E1424"/>
<line x1="485.50" y1="837.58" x2="554.60" y2="837.58" stroke="#8E1424" stroke-width="2.2"/>
<path d="M488.00,832.98L493.00,837.58L488.00,842.18M498.85,832.98L503.85,837.58L498.85,842.18M509.70,832.98L514.70,837.58L509.70,842.18M531.40,832.98L536.40,837.58L531.40,842.18M542.25,832.98L547.25,837.58L542.25,842.18" fill="none" stroke="#C5707A" stroke-width="2.2" stroke-linecap="butt" stroke-linejoin="miter"/>
<rect x="484.60" y="832.18" width="2.00" height="10.80" fill="#8E1424"/>
<rect x="518.50" y="832.18" width="3.50" height="10.80" fill="#8E1424"/>
<rect x="548.90" y="832.18" width="5.70" height="10.80" fill="#8E1424"/>
<line x1="485.50" y1="859.34" x2="624.70" y2="859.34" stroke="#8E1424" stroke-width="2.2"/>
<path d="M488.00,854.74L493.00,859.34L488.00,863.94M498.85,854.74L503.85,859.34L498.85,863.94M509.70,854.74L514.70,859.34L509.70,863.94" fill="none" stroke="#C5707A" stroke-width="2.2" stroke-linecap="butt" stroke-linejoin="miter"/>
<rect x="484.60" y="853.94" width="2.00" height="10.80" fill="#8E1424"/>
<rect x="518.10" y="853.94" width="106.60" height="10.80" fill="#8E1424"/>
<line x1="698.60" y1="881.10" x2="1465.70" y2="881.10" stroke="#8E1424" stroke-width="2.2"/>
<path d="M711.95,876.50L716.95,881.10L711.95,885.70M722.80,876.50L727.80,881.10L722.80,885.70M733.65,876.50L738.65,881.10L733.65,885.70M744.50,876.50L749.50,881.10L744.50,885.70M755.35,876.50L760.35,881.10L755.35,885.70M766.20,876.50L771.20,881.10L766.20,885.70M777.05,876.50L782.05,881.10L777.05,885.70M787.90,876.50L792.90,881.10L787.90,885.70M798.75,876.50L803.75,881.10L798.75,885.70M809.60,876.50L814.60,881.10L809.60,885.70M820.45,876.50L825.45,881.10L820.45,885.70M831.30,876.50L836.30,881.10L831.30,885.70M842.15,876.50L847.15,881.10L842.15,885.70M853.00,876.50L858.00,881.10L853.00,885.70M863.85,876.50L868.85,881.10L863.85,885.70M896.40,876.50L901.40,881.10L896.40,885.70M918.10,876.50L923.10,881.10L918.10,885.70M928.95,876.50L933.95,881.10L928.95,885.70M939.80,876.50L944.80,881.10L939.80,885.70M950.65,876.50L955.65,881.10L950.65,885.70M961.50,876.50L966.50,881.10L961.50,885.70M972.35,876.50L977.35,881.10L972.35,885.70M983.20,876.50L988.20,881.10L983.20,885.70M994.05,876.50L999.05,881.10L994.05,885.70M1004.90,876.50L1009.90,881.10L1004.90,885.70M1015.75,876.50L1020.75,881.10L1015.75,885.70M1037.45,876.50L1042.45,881.10L1037.45,885.70M1048.30,876.50L1053.30,881.10L1048.30,885.70M1059.15,876.50L1064.15,881.10L1059.15,885.70M1070.00,876.50L1075.00,881.10L1070.00,885.70M1080.85,876.50L1085.85,881.10L1080.85,885.70M1091.70,876.50L1096.70,881.10L1091.70,885.70M1102.55,876.50L1107.55,881.10L1102.55,885.70M1113.40,876.50L1118.40,881.10L1113.40,885.70M1124.25,876.50L1129.25,881.10L1124.25,885.70M1135.10,876.50L1140.10,881.10L1135.10,885.70M1145.95,876.50L1150.95,881.10L1145.95,885.70M1156.80,876.50L1161.80,881.10L1156.80,885.70M1167.65,876.50L1172.65,881.10L1167.65,885.70M1178.50,876.50L1183.50,881.10L1178.50,885.70M1189.35,876.50L1194.35,881.10L1189.35,885.70M1200.20,876.50L1205.20,881.10L1200.20,885.70M1211.05,876.50L1216.05,881.10L1211.05,885.70M1221.90,876.50L1226.90,881.10L1221.90,885.70M1232.75,876.50L1237.75,881.10L1232.75,885.70M1243.60,876.50L1248.60,881.10L1243.60,885.70M1254.45,876.50L1259.45,881.10L1254.45,885.70M1265.30,876.50L1270.30,881.10L1265.30,885.70M1276.15,876.50L1281.15,881.10L1276.15,885.70M1287.00,876.50L1292.00,881.10L1287.00,885.70M1297.85,876.50L1302.85,881.10L1297.85,885.70M1308.70,876.50L1313.70,881.10L1308.70,885.70M1319.55,876.50L1324.55,881.10L1319.55,885.70M1330.40,876.50L1335.40,881.10L1330.40,885.70M1341.25,876.50L1346.25,881.10L1341.25,885.70M1352.10,876.50L1357.10,881.10L1352.10,885.70M1362.95,876.50L1367.95,881.10L1362.95,885.70M1384.65,876.50L1389.65,881.10L1384.65,885.70M1395.50,876.50L1400.50,881.10L1395.50,885.70M1406.35,876.50L1411.35,881.10L1406.35,885.70M1417.20,876.50L1422.20,881.10L1417.20,885.70M1438.90,876.50L1443.90,881.10L1438.90,885.70M1449.75,876.50L1454.75,881.10L1449.75,885.70" fill="none" stroke="#C5707A" stroke-width="2.2" stroke-linecap="butt" stroke-linejoin="miter"/>
<rect x="698.60" y="875.70" width="6.30" height="10.80" fill="#8E1424"/>
<rect x="878.60" y="871.50" width="7.00" height="19.20" fill="#8E1424"/>
<rect x="903.70" y="871.50" width="4.00" height="19.20" fill="#8E1424"/>
<rect x="1025.10" y="871.50" width="4.50" height="19.20" fill="#8E1424"/>
<rect x="1376.20" y="871.50" width="2.50" height="19.20" fill="#8E1424"/>
<rect x="1430.90" y="871.50" width="1.80" height="19.20" fill="#8E1424"/>
<rect x="1463.10" y="875.70" width="2.60" height="10.80" fill="#8E1424"/>
<line x1="702.80" y1="902.86" x2="880.60" y2="902.86" stroke="#8E1424" stroke-width="2.2"/>
<path d="M716.15,898.26L721.15,902.86L716.15,907.46M727.00,898.26L732.00,902.86L727.00,907.46M737.85,898.26L742.85,902.86L737.85,907.46M748.70,898.26L753.70,902.86L748.70,907.46M759.55,898.26L764.55,902.86L759.55,907.46M781.25,898.26L786.25,902.86L781.25,907.46M792.10,898.26L797.10,902.86L792.10,907.46M813.80,898.26L818.80,902.86L813.80,907.46M824.65,898.26L829.65,902.86L824.65,907.46M835.50,898.26L840.50,902.86L835.50,907.46M846.35,898.26L851.35,902.86L846.35,907.46M857.20,898.26L862.20,902.86L857.20,907.46M868.05,898.26L873.05,902.86L868.05,907.46" fill="none" stroke="#C5707A" stroke-width="2.2" stroke-linecap="butt" stroke-linejoin="miter"/>
<rect x="702.80" y="897.46" width="10.80" height="10.80" fill="#8E1424"/>
<rect x="774.60" y="897.46" width="2.00" height="10.80" fill="#8E1424"/>
<rect x="801.70" y="897.46" width="3.00" height="10.80" fill="#8E1424"/>
<rect x="879.60" y="893.26" width="2.00" height="19.20" fill="#8E1424"/>
<line x1="709.60" y1="924.62" x2="907.70" y2="924.62" stroke="#8E1424" stroke-width="2.2"/>
<path d="M722.95,920.02L727.95,924.62L722.95,929.22M733.80,920.02L738.80,924.62L733.80,929.22M744.65,920.02L749.65,924.62L744.65,929.22M755.50,920.02L760.50,924.62L755.50,929.22M766.35,920.02L771.35,924.62L766.35,929.22M777.20,920.02L782.20,924.62L777.20,929.22M788.05,920.02L793.05,924.62L788.05,929.22M798.90,920.02L803.90,924.62L798.90,929.22M809.75,920.02L814.75,924.62L809.75,929.22M820.60,920.02L825.60,924.62L820.60,929.22M831.45,920.02L836.45,924.62L831.45,929.22M842.30,920.02L847.30,924.62L842.30,929.22M853.15,920.02L858.15,924.62L853.15,929.22M864.00,920.02L869.00,924.62L864.00,929.22M896.55,920.02L901.55,924.62L896.55,929.22" fill="none" stroke="#C5707A" stroke-width="2.2" stroke-linecap="butt" stroke-linejoin="miter"/>
<rect x="709.60" y="919.22" width="3.80" height="10.80" fill="#8E1424"/>
<rect x="878.60" y="915.02" width="7.00" height="19.20" fill="#8E1424"/>
<rect x="903.70" y="915.02" width="4.00" height="19.20" fill="#8E1424"/>
<line x1="1214.90" y1="946.38" x2="1742.20" y2="946.38" stroke="#8E1424" stroke-width="2.2"/>
<path d="M1249.95,941.78L1254.95,946.38L1249.95,950.98M1260.80,941.78L1265.80,946.38L1260.80,950.98M1271.65,941.78L1276.65,946.38L1271.65,950.98M1282.50,941.78L1287.50,946.38L1282.50,950.98M1293.35,941.78L1298.35,946.38L1293.35,950.98M1304.20,941.78L1309.20,946.38L1304.20,950.98M1315.05,941.78L1320.05,946.38L1315.05,950.98M1325.90,941.78L1330.90,946.38L1325.90,950.98M1336.75,941.78L1341.75,946.38L1336.75,950.98M1347.60,941.78L1352.60,946.38L1347.60,950.98M1358.45,941.78L1363.45,946.38L1358.45,950.98M1369.30,941.78L1374.30,946.38L1369.30,950.98M1391.00,941.78L1396.00,946.38L1391.00,950.98M1401.85,941.78L1406.85,946.38L1401.85,950.98M1412.70,941.78L1417.70,946.38L1412.70,950.98M1423.55,941.78L1428.55,946.38L1423.55,950.98M1434.40,941.78L1439.40,946.38L1434.40,950.98M1445.25,941.78L1450.25,946.38L1445.25,950.98M1456.10,941.78L1461.10,946.38L1456.10,950.98M1477.80,941.78L1482.80,946.38L1477.80,950.98M1488.65,941.78L1493.65,946.38L1488.65,950.98M1499.50,941.78L1504.50,946.38L1499.50,950.98M1510.35,941.78L1515.35,946.38L1510.35,950.98M1521.20,941.78L1526.20,946.38L1521.20,950.98M1532.05,941.78L1537.05,946.38L1532.05,950.98M1553.75,941.78L1558.75,946.38L1553.75,950.98M1564.60,941.78L1569.60,946.38L1564.60,950.98M1575.45,941.78L1580.45,946.38L1575.45,950.98M1586.30,941.78L1591.30,946.38L1586.30,950.98M1597.15,941.78L1602.15,946.38L1597.15,950.98M1608.00,941.78L1613.00,946.38L1608.00,950.98M1618.85,941.78L1623.85,946.38L1618.85,950.98M1629.70,941.78L1634.70,946.38L1629.70,950.98M1640.55,941.78L1645.55,946.38L1640.55,950.98M1651.40,941.78L1656.40,946.38L1651.40,950.98M1662.25,941.78L1667.25,946.38L1662.25,950.98M1683.95,941.78L1688.95,946.38L1683.95,950.98M1694.80,941.78L1699.80,946.38L1694.80,950.98" fill="none" stroke="#C5707A" stroke-width="2.2" stroke-linecap="butt" stroke-linejoin="miter"/>
<rect x="1214.90" y="940.98" width="33.20" height="10.80" fill="#8E1424"/>
<rect x="1376.00" y="940.98" width="4.80" height="10.80" fill="#8E1424"/>
<rect x="1431.20" y="940.98" width="1.80" height="10.80" fill="#8E1424"/>
<rect x="1463.20" y="940.98" width="4.90" height="10.80" fill="#8E1424"/>
<rect x="1471.80" y="940.98" width="4.90" height="10.80" fill="#8E1424"/>
<rect x="1546.20" y="940.98" width="4.60" height="10.80" fill="#8E1424"/>
<rect x="1581.40" y="940.98" width="2.10" height="10.80" fill="#8E1424"/>
<rect x="1672.70" y="940.98" width="6.60" height="10.80" fill="#8E1424"/>
<rect x="1705.00" y="940.98" width="37.20" height="10.80" fill="#8E1424"/>
<line x1="1245.80" y1="968.14" x2="1552.50" y2="968.14" stroke="#8E1424" stroke-width="2.2"/>
<path d="M1248.30,963.54L1253.30,968.14L1248.30,972.74M1259.15,963.54L1264.15,968.14L1259.15,972.74M1270.00,963.54L1275.00,968.14L1270.00,972.74M1280.85,963.54L1285.85,968.14L1280.85,972.74M1291.70,963.54L1296.70,968.14L1291.70,972.74M1302.55,963.54L1307.55,968.14L1302.55,972.74M1313.40,963.54L1318.40,968.14L1313.40,972.74M1324.25,963.54L1329.25,968.14L1324.25,972.74M1335.10,963.54L1340.10,968.14L1335.10,972.74M1345.95,963.54L1350.95,968.14L1345.95,972.74M1356.80,963.54L1361.80,968.14L1356.80,972.74M1367.65,963.54L1372.65,968.14L1367.65,972.74M1389.35,963.54L1394.35,968.14L1389.35,972.74M1400.20,963.54L1405.20,968.14L1400.20,972.74M1411.05,963.54L1416.05,968.14L1411.05,972.74M1421.90,963.54L1426.90,968.14L1421.90,972.74M1443.60,963.54L1448.60,968.14L1443.60,972.74M1454.45,963.54L1459.45,968.14L1454.45,972.74M1487.00,963.54L1492.00,968.14L1487.00,972.74M1497.85,963.54L1502.85,968.14L1497.85,972.74M1508.70,963.54L1513.70,968.14L1508.70,972.74M1519.55,963.54L1524.55,968.14L1519.55,972.74M1530.40,963.54L1535.40,968.14L1530.40,972.74" fill="none" stroke="#C5707A" stroke-width="2.2" stroke-linecap="butt" stroke-linejoin="miter"/>
<rect x="1245.00" y="962.74" width="2.00" height="10.80" fill="#8E1424"/>
<rect x="1376.00" y="962.74" width="4.80" height="10.80" fill="#8E1424"/>
<rect x="1431.20" y="962.74" width="1.80" height="10.80" fill="#8E1424"/>
<rect x="1463.20" y="962.74" width="4.90" height="10.80" fill="#8E1424"/>
<rect x="1471.80" y="962.74" width="4.90" height="10.80" fill="#8E1424"/>
<rect x="1546.20" y="962.74" width="6.30" height="10.80" fill="#8E1424"/>
<line x1="1431.20" y1="989.90" x2="1487.00" y2="989.90" stroke="#8E1424" stroke-width="2.2"/>
<path d="M1433.70,985.30L1438.70,989.90L1433.70,994.50M1444.55,985.30L1449.55,989.90L1444.55,994.50M1455.40,985.30L1460.40,989.90L1455.40,994.50" fill="none" stroke="#C5707A" stroke-width="2.2" stroke-linecap="butt" stroke-linejoin="miter"/>
<rect x="1430.60" y="984.50" width="2.00" height="10.80" fill="#8E1424"/>
<rect x="1463.20" y="984.50" width="4.90" height="10.80" fill="#8E1424"/>
<rect x="1471.80" y="984.50" width="15.20" height="10.80" fill="#8E1424"/>
<line x1="1466.10" y1="1011.66" x2="1707.00" y2="1011.66" stroke="#8E1424" stroke-width="2.2"/>
<path d="M1468.60,1007.06L1473.60,1011.66L1468.60,1016.26M1479.45,1007.06L1484.45,1011.66L1479.45,1016.26M1490.30,1007.06L1495.30,1011.66L1490.30,1016.26M1501.15,1007.06L1506.15,1011.66L1501.15,1016.26M1512.00,1007.06L1517.00,1011.66L1512.00,1016.26M1522.85,1007.06L1527.85,1011.66L1522.85,1016.26M1533.70,1007.06L1538.70,1011.66L1533.70,1016.26M1555.40,1007.06L1560.40,1011.66L1555.40,1016.26M1566.25,1007.06L1571.25,1011.66L1566.25,1016.26M1587.95,1007.06L1592.95,1011.66L1587.95,1016.26M1598.80,1007.06L1603.80,1011.66L1598.80,1016.26M1609.65,1007.06L1614.65,1011.66L1609.65,1016.26M1620.50,1007.06L1625.50,1011.66L1620.50,1016.26M1631.35,1007.06L1636.35,1011.66L1631.35,1016.26M1642.20,1007.06L1647.20,1011.66L1642.20,1016.26M1653.05,1007.06L1658.05,1011.66L1653.05,1016.26M1663.90,1007.06L1668.90,1011.66L1663.90,1016.26M1685.60,1007.06L1690.60,1011.66L1685.60,1016.26M1696.45,1007.06L1701.45,1011.66L1696.45,1016.26" fill="none" stroke="#C5707A" stroke-width="2.2" stroke-linecap="butt" stroke-linejoin="miter"/>
<rect x="1465.50" y="1006.26" width="2.00" height="10.80" fill="#8E1424"/>
<rect x="1546.20" y="1006.26" width="4.60" height="10.80" fill="#8E1424"/>
<rect x="1581.40" y="1006.26" width="2.10" height="10.80" fill="#8E1424"/>
<rect x="1672.70" y="1006.26" width="6.60" height="10.80" fill="#8E1424"/>
<rect x="1706.00" y="1006.26" width="2.00" height="10.80" fill="#8E1424"/>
<line x1="1516.20" y1="1033.42" x2="1622.60" y2="1033.42" stroke="#8E1424" stroke-width="2.2"/>
<path d="M1562.10,1028.82L1567.10,1033.42L1562.10,1038.02M1572.95,1028.82L1577.95,1033.42L1572.95,1038.02" fill="none" stroke="#C5707A" stroke-width="2.2" stroke-linecap="butt" stroke-linejoin="miter"/>
<rect x="1516.20" y="1028.02" width="34.90" height="10.80" fill="#8E1424"/>
<rect x="1580.60" y="1028.02" width="42.00" height="10.80" fill="#8E1424"/>
<line x1="1563.40" y1="1055.18" x2="1731.30" y2="1055.18" stroke="#8E1424" stroke-width="2.2"/>
<path d="M1598.45,1050.58L1603.45,1055.18L1598.45,1059.78M1609.30,1050.58L1614.30,1055.18L1609.30,1059.78M1620.15,1050.58L1625.15,1055.18L1620.15,1059.78M1631.00,1050.58L1636.00,1055.18L1631.00,1059.78M1641.85,1050.58L1646.85,1055.18L1641.85,1059.78M1652.70,1050.58L1657.70,1055.18L1652.70,1059.78M1663.55,1050.58L1668.55,1055.18L1663.55,1059.78M1685.25,1050.58L1690.25,1055.18L1685.25,1059.78M1696.10,1050.58L1701.10,1055.18L1696.10,1059.78" fill="none" stroke="#C5707A" stroke-width="2.2" stroke-linecap="butt" stroke-linejoin="miter"/>
<rect x="1563.40" y="1049.78" width="26.30" height="10.80" fill="#8E1424"/>
<rect x="1672.70" y="1049.78" width="6.60" height="10.80" fill="#8E1424"/>
<rect x="1705.00" y="1049.78" width="26.30" height="10.80" fill="#8E1424"/>
<text x="-1.63" y="1145.80" font-size="42" font-weight="bold" textLength="26.18" lengthAdjust="spacingAndGlyphs">b</text>
<text x="290.50" y="1153.90" font-size="30.5" fill="#2E3F98" textLength="84.46" lengthAdjust="spacingAndGlyphs">MPRA</text>
<line x1="106.70" y1="1720.80" x2="314.30" y2="1720.80" stroke="#C8C8C8" stroke-width="1.35"/>
<line x1="106.70" y1="1662.00" x2="314.30" y2="1662.00" stroke="#C8C8C8" stroke-width="1.35"/>
<line x1="106.70" y1="1603.20" x2="314.30" y2="1603.20" stroke="#C8C8C8" stroke-width="1.35"/>
<line x1="106.70" y1="1544.40" x2="314.30" y2="1544.40" stroke="#C8C8C8" stroke-width="1.35"/>
<line x1="106.70" y1="1485.60" x2="314.30" y2="1485.60" stroke="#C8C8C8" stroke-width="1.35"/>
<line x1="106.70" y1="1426.80" x2="314.30" y2="1426.80" stroke="#C8C8C8" stroke-width="1.35"/>
<line x1="106.70" y1="1368.00" x2="314.30" y2="1368.00" stroke="#C8C8C8" stroke-width="1.35"/>
<line x1="106.70" y1="1309.20" x2="314.30" y2="1309.20" stroke="#C8C8C8" stroke-width="1.35"/>
<line x1="106.70" y1="1250.40" x2="314.30" y2="1250.40" stroke="#C8C8C8" stroke-width="1.35"/>
<line x1="106.70" y1="1191.60" x2="314.30" y2="1191.60" stroke="#C8C8C8" stroke-width="1.35"/>
<line x1="163.10" y1="1187.40" x2="163.10" y2="1765.00" stroke="#C8C8C8" stroke-width="1.35"/>
<line x1="257.60" y1="1187.40" x2="257.60" y2="1765.00" stroke="#C8C8C8" stroke-width="1.35"/>
<line x1="105.20" y1="1765.00" x2="314.30" y2="1765.00" stroke="#231F20" stroke-width="3"/>
<line x1="163.10" y1="1765.00" x2="163.10" y2="1774.50" stroke="#231F20" stroke-width="2.4"/>
<line x1="257.60" y1="1765.00" x2="257.60" y2="1774.50" stroke="#231F20" stroke-width="2.4"/>
<line x1="366.40" y1="1720.80" x2="574.00" y2="1720.80" stroke="#C8C8C8" stroke-width="1.35"/>
<line x1="366.40" y1="1662.00" x2="574.00" y2="1662.00" stroke="#C8C8C8" stroke-width="1.35"/>
<line x1="366.40" y1="1603.20" x2="574.00" y2="1603.20" stroke="#C8C8C8" stroke-width="1.35"/>
<line x1="366.40" y1="1544.40" x2="574.00" y2="1544.40" stroke="#C8C8C8" stroke-width="1.35"/>
<line x1="366.40" y1="1485.60" x2="574.00" y2="1485.60" stroke="#C8C8C8" stroke-width="1.35"/>
<line x1="366.40" y1="1426.80" x2="574.00" y2="1426.80" stroke="#C8C8C8" stroke-width="1.35"/>
<line x1="366.40" y1="1368.00" x2="574.00" y2="1368.00" stroke="#C8C8C8" stroke-width="1.35"/>
<line x1="366.40" y1="1309.20" x2="574.00" y2="1309.20" stroke="#C8C8C8" stroke-width="1.35"/>
<line x1="366.40" y1="1250.40" x2="574.00" y2="1250.40" stroke="#C8C8C8" stroke-width="1.35"/>
<line x1="366.40" y1="1191.60" x2="574.00" y2="1191.60" stroke="#C8C8C8" stroke-width="1.35"/>
<line x1="423.40" y1="1187.40" x2="423.40" y2="1765.00" stroke="#C8C8C8" stroke-width="1.35"/>
<line x1="517.60" y1="1187.40" x2="517.60" y2="1765.00" stroke="#C8C8C8" stroke-width="1.35"/>
<line x1="366.40" y1="1765.00" x2="574.00" y2="1765.00" stroke="#231F20" stroke-width="3"/>
<line x1="423.40" y1="1765.00" x2="423.40" y2="1774.50" stroke="#231F20" stroke-width="2.4"/>
<line x1="517.60" y1="1765.00" x2="517.60" y2="1774.50" stroke="#231F20" stroke-width="2.4"/>
<line x1="106.60" y1="1187.40" x2="106.60" y2="1766.50" stroke="#231F20" stroke-width="2.7"/>
<line x1="97.20" y1="1662.00" x2="106.00" y2="1662.00" stroke="#231F20" stroke-width="1.5"/>
<text x="70.18" y="1672.20" font-size="29.8">1</text>
<line x1="97.20" y1="1544.40" x2="106.00" y2="1544.40" stroke="#231F20" stroke-width="1.5"/>
<text x="70.23" y="1554.60" font-size="29.8">2</text>
<line x1="97.20" y1="1426.80" x2="106.00" y2="1426.80" stroke="#231F20" stroke-width="1.5"/>
<text x="70.04" y="1437.00" font-size="29.8">3</text>
<line x1="97.20" y1="1309.20" x2="106.00" y2="1309.20" stroke="#231F20" stroke-width="1.5"/>
<text x="69.60" y="1319.40" font-size="29.8">4</text>
<line x1="97.20" y1="1191.60" x2="106.00" y2="1191.60" stroke="#231F20" stroke-width="1.5"/>
<text x="69.98" y="1201.80" font-size="29.8">5</text>
<path d="M163.40,1276.50C163.54,1278.75 163.94,1285.52 164.25,1290.00C164.56,1294.48 164.95,1297.73 165.25,1303.40C165.55,1309.07 165.62,1316.78 166.05,1324.00C166.48,1331.22 166.58,1339.45 167.85,1346.70C169.12,1353.95 171.55,1360.28 173.65,1367.50C175.75,1374.72 179.05,1382.48 180.45,1390.00C181.85,1397.52 182.43,1405.37 182.05,1412.60C181.67,1419.83 179.78,1427.05 178.15,1433.40C176.52,1439.75 173.67,1444.60 172.25,1450.70C170.83,1456.80 170.28,1464.22 169.65,1470.00C169.02,1475.78 169.15,1479.37 168.45,1485.40C167.75,1491.43 166.05,1498.93 165.45,1506.20C164.85,1513.47 165.08,1521.37 164.85,1529.00C164.62,1536.63 164.29,1544.00 164.05,1552.00C163.81,1560.00 163.51,1572.83 163.40,1577.00C163.29,1572.83 162.99,1560.00 162.75,1552.00C162.51,1544.00 162.18,1536.63 161.95,1529.00C161.72,1521.37 161.95,1513.47 161.35,1506.20C160.75,1498.93 159.05,1491.43 158.35,1485.40C157.65,1479.37 157.78,1475.78 157.15,1470.00C156.52,1464.22 155.97,1456.80 154.55,1450.70C153.13,1444.60 150.28,1439.75 148.65,1433.40C147.02,1427.05 145.13,1419.83 144.75,1412.60C144.37,1405.37 144.95,1397.52 146.35,1390.00C147.75,1382.48 151.05,1374.72 153.15,1367.50C155.25,1360.28 157.68,1353.95 158.95,1346.70C160.22,1339.45 160.32,1331.22 160.75,1324.00C161.18,1316.78 161.25,1309.07 161.55,1303.40C161.85,1297.73 162.24,1294.48 162.55,1290.00C162.86,1285.52 163.26,1278.75 163.40,1276.50Z" fill="#E41E36" stroke="#231F20" stroke-width="3.5" stroke-linejoin="round"/>
<path d="M258.90,1609.80C259.27,1612.10 260.36,1618.48 261.15,1623.60C261.94,1628.72 262.07,1636.28 263.65,1640.50C265.23,1644.72 268.40,1646.40 270.65,1648.90C272.90,1651.40 274.98,1653.40 277.15,1655.50C279.32,1657.60 280.90,1659.10 283.65,1661.50C286.40,1663.90 290.73,1667.48 293.65,1669.90C296.57,1672.32 299.10,1674.18 301.15,1676.00C303.20,1677.82 305.70,1679.13 305.95,1680.80C306.20,1682.47 304.12,1684.32 302.65,1686.00C301.18,1687.68 299.57,1689.07 297.15,1690.90C294.73,1692.73 291.07,1694.90 288.15,1697.00C285.23,1699.10 283.20,1700.30 279.65,1703.50C276.10,1706.70 270.02,1711.98 266.85,1716.20C263.68,1720.42 261.97,1724.75 260.65,1728.80C259.32,1732.85 259.19,1738.55 258.90,1740.50C258.61,1738.55 258.47,1732.85 257.15,1728.80C255.82,1724.75 254.12,1720.42 250.95,1716.20C247.78,1711.98 241.70,1706.70 238.15,1703.50C234.60,1700.30 232.57,1699.10 229.65,1697.00C226.73,1694.90 223.07,1692.73 220.65,1690.90C218.23,1689.07 216.62,1687.68 215.15,1686.00C213.68,1684.32 211.60,1682.47 211.85,1680.80C212.10,1679.13 214.60,1677.82 216.65,1676.00C218.70,1674.18 221.23,1672.32 224.15,1669.90C227.07,1667.48 231.40,1663.90 234.15,1661.50C236.90,1659.10 238.48,1657.60 240.65,1655.50C242.82,1653.40 244.90,1651.40 247.15,1648.90C249.40,1646.40 252.57,1644.72 254.15,1640.50C255.73,1636.28 255.86,1628.72 256.65,1623.60C257.44,1618.48 258.52,1612.10 258.90,1609.80Z" fill="#3DBBDF" stroke="#231F20" stroke-width="3.5" stroke-linejoin="round"/>
<path d="M423.40,1212.40C423.40,1216.17 423.26,1227.27 423.40,1235.00C423.54,1242.73 423.49,1249.55 424.25,1258.80C425.01,1268.05 426.02,1277.68 427.95,1290.50C429.88,1303.32 433.40,1320.63 435.85,1335.70C438.30,1350.77 441.25,1369.60 442.65,1380.90C444.05,1392.20 444.22,1395.97 444.25,1403.50C444.28,1411.03 444.05,1416.68 442.85,1426.10C441.65,1435.52 438.97,1448.68 437.05,1460.00C435.13,1471.32 433.22,1482.68 431.35,1494.00C429.48,1505.32 427.03,1516.60 425.85,1527.90C424.67,1539.20 424.66,1551.12 424.25,1561.80C423.84,1572.48 423.54,1581.97 423.40,1592.00C423.26,1602.03 423.40,1617.00 423.40,1622.00C423.40,1617.00 423.54,1602.03 423.40,1592.00C423.26,1581.97 422.96,1572.48 422.55,1561.80C422.14,1551.12 422.13,1539.20 420.95,1527.90C419.77,1516.60 417.32,1505.32 415.45,1494.00C413.58,1482.68 411.67,1471.32 409.75,1460.00C407.83,1448.68 405.15,1435.52 403.95,1426.10C402.75,1416.68 402.52,1411.03 402.55,1403.50C402.58,1395.97 402.75,1392.20 404.15,1380.90C405.55,1369.60 408.50,1350.77 410.95,1335.70C413.40,1320.63 416.92,1303.32 418.85,1290.50C420.78,1277.68 421.79,1268.05 422.55,1258.80C423.31,1249.55 423.26,1242.73 423.40,1235.00C423.54,1227.27 423.40,1216.17 423.40,1212.40Z" fill="#E41E36" stroke="#231F20" stroke-width="3.5" stroke-linejoin="round"/>
<path d="M520.60,1556.80C520.74,1560.13 520.29,1571.72 521.45,1576.80C522.61,1581.88 525.32,1584.27 527.55,1587.30C529.78,1590.33 532.47,1592.38 534.85,1595.00C537.23,1597.62 539.75,1599.90 541.85,1603.00C543.95,1606.10 546.28,1610.10 547.45,1613.60C548.62,1617.10 547.20,1620.50 548.85,1624.00C550.50,1627.50 554.85,1631.60 557.35,1634.60C559.85,1637.60 562.25,1639.73 563.85,1642.00C565.45,1644.27 567.02,1645.07 566.95,1648.20C566.88,1651.33 564.97,1656.95 563.45,1660.80C561.93,1664.65 560.85,1667.80 557.85,1671.30C554.85,1674.80 550.12,1678.28 545.45,1681.80C540.78,1685.32 533.78,1688.88 529.85,1692.40C525.92,1695.92 523.39,1698.18 521.85,1702.90C520.31,1707.62 520.81,1717.73 520.60,1720.70C520.39,1717.73 520.89,1707.62 519.35,1702.90C517.81,1698.18 515.28,1695.92 511.35,1692.40C507.42,1688.88 500.42,1685.32 495.75,1681.80C491.08,1678.28 486.35,1674.80 483.35,1671.30C480.35,1667.80 479.27,1664.65 477.75,1660.80C476.23,1656.95 474.32,1651.33 474.25,1648.20C474.18,1645.07 475.75,1644.27 477.35,1642.00C478.95,1639.73 481.35,1637.60 483.85,1634.60C486.35,1631.60 490.70,1627.50 492.35,1624.00C494.00,1620.50 492.58,1617.10 493.75,1613.60C494.92,1610.10 497.25,1606.10 499.35,1603.00C501.45,1599.90 503.97,1597.62 506.35,1595.00C508.73,1592.38 511.42,1590.33 513.65,1587.30C515.88,1584.27 518.59,1581.88 519.75,1576.80C520.91,1571.72 520.46,1560.13 520.60,1556.80Z" fill="#3DBBDF" stroke="#231F20" stroke-width="3.5" stroke-linejoin="round"/>
<line x1="163.40" y1="1348.40" x2="163.40" y2="1506.20" stroke="#231F20" stroke-width="3.3"/>
<rect x="154.80" y="1391.90" width="16.60" height="46.90" fill="#FFFFFF" stroke="#231F20" stroke-width="3.0"/>
<rect x="154.80" y="1417.40" width="16.60" height="6.00" fill="#231F20"/>
<line x1="258.90" y1="1643.80" x2="258.90" y2="1718.30" stroke="#231F20" stroke-width="3.3"/>
<rect x="249.60" y="1669.70" width="18.70" height="21.40" fill="#FFFFFF" stroke="#231F20" stroke-width="3.0"/>
<rect x="249.60" y="1677.60" width="18.70" height="6.00" fill="#231F20"/>
<line x1="423.40" y1="1290.00" x2="423.40" y2="1543.70" stroke="#231F20" stroke-width="3.3"/>
<rect x="415.00" y="1374.50" width="17.10" height="73.90" fill="#FFFFFF" stroke="#231F20" stroke-width="3.0"/>
<rect x="415.00" y="1395.30" width="17.10" height="6.00" fill="#231F20"/>
<line x1="520.60" y1="1591.50" x2="520.60" y2="1687.60" stroke="#231F20" stroke-width="3.3"/>
<rect x="511.40" y="1622.90" width="18.60" height="44.30" fill="#FFFFFF" stroke="#231F20" stroke-width="3.0"/>
<rect x="511.40" y="1644.20" width="18.60" height="6.00" fill="#231F20"/>
<circle cx="163.4" cy="1326" r="4.2" fill="#231F20"/>
<circle cx="163.4" cy="1331" r="4.2" fill="#231F20"/>
<circle cx="163.4" cy="1336" r="4.2" fill="#231F20"/>
<circle cx="163.4" cy="1341" r="4.2" fill="#231F20"/>
<circle cx="163.4" cy="1509.7" r="3.8" fill="#231F20"/>
<circle cx="163.4" cy="1529.6" r="3.8" fill="#231F20"/>
<circle cx="258.9" cy="1629.5" r="4.2" fill="#231F20"/>
<circle cx="258.9" cy="1634.0" r="4.2" fill="#231F20"/>
<text x="153.16" y="1808.70" font-size="29.8" fill="#E41E36">A</text>
<text x="246.65" y="1808.70" font-size="29.8" fill="#13A4DD">C</text>
<text x="413.46" y="1808.70" font-size="29.8" fill="#E41E36">A</text>
<text x="506.65" y="1808.70" font-size="29.8" fill="#13A4DD">C</text>
<line x1="142.00" y1="1820.40" x2="293.70" y2="1820.40" stroke="#231F20" stroke-width="2.2"/>
<line x1="400.10" y1="1820.40" x2="551.90" y2="1820.40" stroke="#231F20" stroke-width="2.2"/>
<text x="195.31" y="1849.30" font-size="29.8" font-style="italic" textLength="43.52" lengthAdjust="spacingAndGlyphs">For</text>
<text x="452.92" y="1849.30" font-size="29.8" font-style="italic" textLength="51.01" lengthAdjust="spacingAndGlyphs">Rev</text>
<text transform="translate(44.10,1649.90) rotate(-90)" x="-1.98" y="0"><tspan font-size="29.32" dy="0.00">log</tspan><tspan font-size="21.11" dy="7.00">2</tspan><tspan font-size="29.32" dy="-7.00"> (RNA TPM/DNA TPM)</tspan></text>
<text x="629.87" y="1145.40" font-size="42" font-weight="bold" textLength="23.26" lengthAdjust="spacingAndGlyphs">c</text>
<text x="889.11" y="1153.60" font-size="30.5" fill="#2E3F98" textLength="218.85" lengthAdjust="spacingAndGlyphs">Luciferase assay</text>
<line x1="766.20" y1="1217.50" x2="766.20" y2="1767.00" stroke="#231F20" stroke-width="2.6"/>
<line x1="765.00" y1="1765.80" x2="1314.70" y2="1765.80" stroke="#231F20" stroke-width="2.6"/>
<line x1="756.00" y1="1765.80" x2="766.20" y2="1765.80" stroke="#231F20" stroke-width="2.4"/>
<text x="728.59" y="1775.80" font-size="29.8">0</text>
<line x1="756.00" y1="1628.95" x2="766.20" y2="1628.95" stroke="#231F20" stroke-width="2.4"/>
<text x="678.87" y="1638.95" font-size="29.8">1000</text>
<line x1="756.00" y1="1492.10" x2="766.20" y2="1492.10" stroke="#231F20" stroke-width="2.4"/>
<text x="678.87" y="1502.10" font-size="29.8">2000</text>
<line x1="756.00" y1="1355.25" x2="766.20" y2="1355.25" stroke="#231F20" stroke-width="2.4"/>
<text x="678.87" y="1365.25" font-size="29.8">3000</text>
<line x1="756.00" y1="1218.40" x2="766.20" y2="1218.40" stroke="#231F20" stroke-width="2.4"/>
<text x="678.87" y="1228.40" font-size="29.8">4000</text>
<text transform="translate(651.90,1684.30) rotate(-90)" x="-2.39" y="0"><tspan font-size="29.16" dy="0.00">Normalized luciferase activity</tspan></text>
<rect x="904.50" y="1594.30" width="63.80" height="171.50" fill="#E41E36" stroke="#231F20" stroke-width="2.4"/>
<rect x="1007.20" y="1734.50" width="63.70" height="31.30" fill="#3DBBDF" stroke="#231F20" stroke-width="2.4"/>
<rect x="1108.80" y="1375.00" width="65.00" height="390.80" fill="#E41E36" stroke="#231F20" stroke-width="2.4"/>
<rect x="1211.40" y="1608.10" width="64.70" height="157.70" fill="#3DBBDF" stroke="#231F20" stroke-width="2.4"/>
<line x1="834.00" y1="1765.80" x2="834.00" y2="1776.00" stroke="#231F20" stroke-width="2.4"/>
<line x1="936.20" y1="1765.80" x2="936.20" y2="1776.00" stroke="#231F20" stroke-width="2.4"/>
<line x1="1038.90" y1="1765.80" x2="1038.90" y2="1776.00" stroke="#231F20" stroke-width="2.4"/>
<line x1="1141.20" y1="1765.80" x2="1141.20" y2="1776.00" stroke="#231F20" stroke-width="2.4"/>
<line x1="1243.60" y1="1765.80" x2="1243.60" y2="1776.00" stroke="#231F20" stroke-width="2.4"/>
<line x1="936.40" y1="1587.70" x2="936.40" y2="1596.00" stroke="#231F20" stroke-width="2.0"/>
<line x1="919.90" y1="1587.70" x2="952.90" y2="1587.70" stroke="#231F20" stroke-width="2.0"/>
<line x1="919.90" y1="1596.00" x2="952.90" y2="1596.00" stroke="#231F20" stroke-width="2.0"/>
<line x1="1141.20" y1="1365.00" x2="1141.20" y2="1381.60" stroke="#231F20" stroke-width="2.0"/>
<line x1="1124.70" y1="1365.00" x2="1157.70" y2="1365.00" stroke="#231F20" stroke-width="2.0"/>
<line x1="1124.70" y1="1381.60" x2="1157.70" y2="1381.60" stroke="#231F20" stroke-width="2.0"/>
<line x1="1039.00" y1="1729.50" x2="1039.00" y2="1736.50" stroke="#231F20" stroke-width="2.0"/>
<line x1="1022.50" y1="1729.50" x2="1055.50" y2="1729.50" stroke="#231F20" stroke-width="2.0"/>
<line x1="1022.50" y1="1736.50" x2="1055.50" y2="1736.50" stroke="#231F20" stroke-width="2.0"/>
<line x1="1243.70" y1="1603.00" x2="1243.70" y2="1610.50" stroke="#231F20" stroke-width="2.0"/>
<line x1="1227.20" y1="1603.00" x2="1260.20" y2="1603.00" stroke="#231F20" stroke-width="2.0"/>
<line x1="1227.20" y1="1610.50" x2="1260.20" y2="1610.50" stroke="#231F20" stroke-width="2.0"/>
<circle cx="816.9" cy="1765.8" r="7.0" fill="#CFD2D5" stroke="#231F20" stroke-width="2.0"/>
<circle cx="823.4" cy="1765.8" r="7.0" fill="#CFD2D5" stroke="#231F20" stroke-width="2.0"/>
<circle cx="828.3" cy="1765.8" r="7.0" fill="#CFD2D5" stroke="#231F20" stroke-width="2.0"/>
<circle cx="839.8" cy="1765.8" r="7.0" fill="#CFD2D5" stroke="#231F20" stroke-width="2.0"/>
<circle cx="845.1" cy="1765.8" r="7.0" fill="#CFD2D5" stroke="#231F20" stroke-width="2.0"/>
<circle cx="851.6" cy="1765.8" r="7.0" fill="#CFD2D5" stroke="#231F20" stroke-width="2.0"/>
<circle cx="926.2" cy="1579.5" r="7.0" fill="#CFD2D5" stroke="#231F20" stroke-width="2.0"/>
<circle cx="947.7" cy="1581.6" r="7.0" fill="#CFD2D5" stroke="#231F20" stroke-width="2.0"/>
<circle cx="962.3" cy="1590.2" r="7.0" fill="#CFD2D5" stroke="#231F20" stroke-width="2.0"/>
<circle cx="911.2" cy="1594.9" r="7.0" fill="#CFD2D5" stroke="#231F20" stroke-width="2.0"/>
<circle cx="944.1" cy="1597.4" r="7.0" fill="#CFD2D5" stroke="#231F20" stroke-width="2.0"/>
<circle cx="928.0" cy="1607.4" r="7.0" fill="#CFD2D5" stroke="#231F20" stroke-width="2.0"/>
<circle cx="1028.1" cy="1728.3" r="7.0" fill="#CFD2D5" stroke="#231F20" stroke-width="2.0"/>
<circle cx="1049.6" cy="1726.1" r="7.0" fill="#CFD2D5" stroke="#231F20" stroke-width="2.0"/>
<circle cx="1022.0" cy="1732.6" r="7.0" fill="#CFD2D5" stroke="#231F20" stroke-width="2.0"/>
<circle cx="1056.0" cy="1730.0" r="7.0" fill="#CFD2D5" stroke="#231F20" stroke-width="2.0"/>
<circle cx="1044.6" cy="1734.3" r="7.0" fill="#CFD2D5" stroke="#231F20" stroke-width="2.0"/>
<circle cx="1032.8" cy="1739.7" r="7.0" fill="#CFD2D5" stroke="#231F20" stroke-width="2.0"/>
<circle cx="1141.2" cy="1346.8" r="7.0" fill="#CFD2D5" stroke="#231F20" stroke-width="2.0"/>
<circle cx="1119.4" cy="1362.8" r="7.0" fill="#CFD2D5" stroke="#231F20" stroke-width="2.0"/>
<circle cx="1163.3" cy="1362.3" r="7.0" fill="#CFD2D5" stroke="#231F20" stroke-width="2.0"/>
<circle cx="1141.2" cy="1374.6" r="7.0" fill="#CFD2D5" stroke="#231F20" stroke-width="2.0"/>
<circle cx="1152.2" cy="1390.4" r="7.0" fill="#CFD2D5" stroke="#231F20" stroke-width="2.0"/>
<circle cx="1130.3" cy="1401.8" r="7.0" fill="#CFD2D5" stroke="#231F20" stroke-width="2.0"/>
<circle cx="1232.8" cy="1598.9" r="7.0" fill="#CFD2D5" stroke="#231F20" stroke-width="2.0"/>
<circle cx="1254.3" cy="1596.3" r="7.0" fill="#CFD2D5" stroke="#231F20" stroke-width="2.0"/>
<circle cx="1261.2" cy="1602.3" r="7.0" fill="#CFD2D5" stroke="#231F20" stroke-width="2.0"/>
<circle cx="1226.5" cy="1612.6" r="7.0" fill="#CFD2D5" stroke="#231F20" stroke-width="2.0"/>
<circle cx="1237.8" cy="1615.0" r="7.0" fill="#CFD2D5" stroke="#231F20" stroke-width="2.0"/>
<circle cx="1249.8" cy="1612.6" r="7.0" fill="#CFD2D5" stroke="#231F20" stroke-width="2.0"/>
<path d="M934.6,1553.7L934.6,1536.0L1035.6,1536.0L1035.6,1571.6" fill="none" stroke="#808386" stroke-width="2.5" stroke-linejoin="miter"/>
<path d="M1136.5,1334.3L1136.5,1318.0L1236.9,1318.0L1236.9,1352.3" fill="none" stroke="#808386" stroke-width="2.5" stroke-linejoin="miter"/>
<text x="922.91" y="1524.0" font-size="25.5" textLength="124.30" lengthAdjust="spacingAndGlyphs"><tspan font-style="italic">P</tspan><tspan> = 8.4e–9</tspan></text>
<text x="1125.72" y="1306.7" font-size="25.5" textLength="122.77" lengthAdjust="spacingAndGlyphs"><tspan font-style="italic">P</tspan><tspan> = 9.2e–8</tspan></text>
<text x="796.95" y="1810.80" font-size="29.8" textLength="73.91" lengthAdjust="spacingAndGlyphs">TATA</text>
<text x="926.26" y="1810.80" font-size="29.8" fill="#E41E36">A</text>
<text x="1027.95" y="1810.80" font-size="29.8" fill="#13A4DD">C</text>
<text x="1131.26" y="1810.80" font-size="29.8" fill="#E41E36">A</text>
<text x="1232.65" y="1810.80" font-size="29.8" fill="#13A4DD">C</text>
<line x1="909.40" y1="1820.90" x2="1075.70" y2="1820.90" stroke="#231F20" stroke-width="2.2"/>
<line x1="1109.00" y1="1819.60" x2="1275.30" y2="1819.60" stroke="#231F20" stroke-width="2.2"/>
<text x="967.52" y="1851.40" font-size="29.8" font-style="italic" textLength="42.82" lengthAdjust="spacingAndGlyphs">For</text>
<text x="1167.13" y="1851.40" font-size="29.8" font-style="italic" textLength="50.32" lengthAdjust="spacingAndGlyphs">Rev</text>
<text x="821.56" y="1896.2" font-size="29.8" textLength="428.35" lengthAdjust="spacingAndGlyphs"><tspan fill="#231F20">rs398206: </tspan><tspan fill="#E41E36">Risk (A) </tspan><tspan fill="#13A4DD">Protective (C)</tspan></text>
<text x="1361.72" y="1145.70" font-size="42" font-weight="bold" textLength="28.00" lengthAdjust="spacingAndGlyphs">d</text>
<text x="1670.75" y="1154.20" font-size="30.5" fill="#2E3F98" textLength="73.73" lengthAdjust="spacingAndGlyphs">eQTL</text>
<line x1="1459.80" y1="1710.05" x2="1957.00" y2="1710.05" stroke="#C8C8C8" stroke-width="1.35"/>
<line x1="1459.80" y1="1653.80" x2="1957.00" y2="1653.80" stroke="#C8C8C8" stroke-width="1.35"/>
<line x1="1459.80" y1="1597.55" x2="1957.00" y2="1597.55" stroke="#C8C8C8" stroke-width="1.35"/>
<line x1="1459.80" y1="1541.30" x2="1957.00" y2="1541.30" stroke="#C8C8C8" stroke-width="1.35"/>
<line x1="1459.80" y1="1485.05" x2="1957.00" y2="1485.05" stroke="#C8C8C8" stroke-width="1.35"/>
<line x1="1459.80" y1="1428.80" x2="1957.00" y2="1428.80" stroke="#C8C8C8" stroke-width="1.35"/>
<line x1="1459.80" y1="1372.55" x2="1957.00" y2="1372.55" stroke="#C8C8C8" stroke-width="1.35"/>
<line x1="1459.80" y1="1316.30" x2="1957.00" y2="1316.30" stroke="#C8C8C8" stroke-width="1.35"/>
<line x1="1459.80" y1="1260.05" x2="1957.00" y2="1260.05" stroke="#C8C8C8" stroke-width="1.35"/>
<line x1="1459.80" y1="1203.80" x2="1957.00" y2="1203.80" stroke="#C8C8C8" stroke-width="1.35"/>
<line x1="1552.80" y1="1176.30" x2="1552.80" y2="1765.30" stroke="#C8C8C8" stroke-width="1.35"/>
<line x1="1707.90" y1="1176.30" x2="1707.90" y2="1765.30" stroke="#C8C8C8" stroke-width="1.35"/>
<line x1="1863.20" y1="1176.30" x2="1863.20" y2="1765.30" stroke="#C8C8C8" stroke-width="1.35"/>
<line x1="1459.80" y1="1176.30" x2="1459.80" y2="1766.50" stroke="#231F20" stroke-width="2.6"/>
<line x1="1458.50" y1="1765.30" x2="1957.00" y2="1765.30" stroke="#231F20" stroke-width="2.6"/>
<text x="1430.04" y="1663.80" font-size="29.8">6</text>
<text x="1430.02" y="1551.30" font-size="29.8">8</text>
<text x="1413.32" y="1438.80" font-size="29.8">10</text>
<text x="1413.65" y="1326.30" font-size="29.8">12</text>
<text x="1413.03" y="1213.80" font-size="29.8">14</text>
<text transform="translate(1388.30,1709.00) rotate(-90)" x="-0.89" y="0"><tspan font-size="28.91" font-style="italic" dy="0.00">MX2</tspan><tspan font-size="28.91" dy="0.00"> mRNA expression (log</tspan><tspan font-size="20.82" dy="7.00">2</tspan><tspan font-size="28.91" dy="-7.00">(RSEM))</tspan></text>
<line x1="1552.80" y1="1263.20" x2="1552.80" y2="1516.50" stroke="#231F20" stroke-width="3.0"/>
<rect x="1514.20" y="1330.90" width="77.10" height="73.30" fill="#E41E36" stroke="#231F20" stroke-width="3"/>
<rect x="1515.70" y="1372.30" width="74.10" height="7.40" fill="#373A3E"/>
<line x1="1707.90" y1="1286.20" x2="1707.90" y2="1587.60" stroke="#231F20" stroke-width="3.0"/>
<rect x="1669.70" y="1404.10" width="76.50" height="78.80" fill="#8E5094" stroke="#231F20" stroke-width="3"/>
<rect x="1671.20" y="1421.80" width="73.50" height="7.40" fill="#373A3E"/>
<line x1="1863.30" y1="1284.60" x2="1863.30" y2="1736.60" stroke="#231F20" stroke-width="3.0"/>
<rect x="1825.30" y="1497.10" width="75.70" height="154.00" fill="#3DBBDF" stroke="#231F20" stroke-width="3"/>
<rect x="1826.80" y="1562.50" width="72.70" height="7.40" fill="#373A3E"/>
<circle cx="1531.6" cy="1206.2" r="5.6" fill="#DCDDDF" stroke="#231F20" stroke-width="2.1"/>
<circle cx="1545.9" cy="1266.6" r="5.6" fill="#DCDDDF" stroke="#231F20" stroke-width="2.1"/>
<circle cx="1567.9" cy="1280.0" r="5.6" fill="#DCDDDF" stroke="#231F20" stroke-width="2.1"/>
<circle cx="1559.1" cy="1296.6" r="5.6" fill="#DCDDDF" stroke="#231F20" stroke-width="2.1"/>
<circle cx="1569.8" cy="1296.6" r="5.6" fill="#DCDDDF" stroke="#231F20" stroke-width="2.1"/>
<circle cx="1560.2" cy="1303.6" r="5.6" fill="#DCDDDF" stroke="#231F20" stroke-width="2.1"/>
<circle cx="1565.0" cy="1316.2" r="5.6" fill="#DCDDDF" stroke="#231F20" stroke-width="2.1"/>
<circle cx="1530.3" cy="1326.3" r="5.6" fill="#DCDDDF" stroke="#231F20" stroke-width="2.1"/>
<circle cx="1535.4" cy="1329.4" r="5.6" fill="#DCDDDF" stroke="#231F20" stroke-width="2.1"/>
<circle cx="1547.4" cy="1337.0" r="5.6" fill="#DCDDDF" stroke="#231F20" stroke-width="2.1"/>
<circle cx="1534.8" cy="1343.5" r="5.6" fill="#DCDDDF" stroke="#231F20" stroke-width="2.1"/>
<circle cx="1557.8" cy="1357.2" r="5.6" fill="#DCDDDF" stroke="#231F20" stroke-width="2.1"/>
<circle cx="1532.0" cy="1374.2" r="5.6" fill="#DCDDDF" stroke="#231F20" stroke-width="2.1"/>
<circle cx="1571.3" cy="1369.1" r="5.6" fill="#DCDDDF" stroke="#231F20" stroke-width="2.1"/>
<circle cx="1568.8" cy="1372.9" r="5.6" fill="#DCDDDF" stroke="#231F20" stroke-width="2.1"/>
<circle cx="1565.4" cy="1373.5" r="5.6" fill="#DCDDDF" stroke="#231F20" stroke-width="2.1"/>
<circle cx="1561.0" cy="1380.5" r="5.6" fill="#DCDDDF" stroke="#231F20" stroke-width="2.1"/>
<circle cx="1550.5" cy="1384.3" r="5.6" fill="#DCDDDF" stroke="#231F20" stroke-width="2.1"/>
<circle cx="1561.9" cy="1390.6" r="5.6" fill="#DCDDDF" stroke="#231F20" stroke-width="2.1"/>
<circle cx="1568.8" cy="1395.6" r="5.6" fill="#DCDDDF" stroke="#231F20" stroke-width="2.1"/>
<circle cx="1571.7" cy="1400.7" r="5.6" fill="#DCDDDF" stroke="#231F20" stroke-width="2.1"/>
<circle cx="1565.7" cy="1404.4" r="5.6" fill="#DCDDDF" stroke="#231F20" stroke-width="2.1"/>
<circle cx="1574.5" cy="1407.6" r="5.6" fill="#DCDDDF" stroke="#231F20" stroke-width="2.1"/>
<circle cx="1551.8" cy="1408.8" r="5.6" fill="#DCDDDF" stroke="#231F20" stroke-width="2.1"/>
<circle cx="1569.4" cy="1429.4" r="5.6" fill="#DCDDDF" stroke="#231F20" stroke-width="2.1"/>
<circle cx="1546.6" cy="1455.9" r="5.6" fill="#DCDDDF" stroke="#231F20" stroke-width="2.1"/>
<circle cx="1534.1" cy="1482.6" r="5.6" fill="#DCDDDF" stroke="#231F20" stroke-width="2.1"/>
<circle cx="1567.5" cy="1517.9" r="5.6" fill="#DCDDDF" stroke="#231F20" stroke-width="2.1"/>
<circle cx="1569.4" cy="1547.5" r="5.6" fill="#DCDDDF" stroke="#231F20" stroke-width="2.1"/>
<circle cx="1552.2" cy="1654.4" r="5.6" fill="#DCDDDF" stroke="#231F20" stroke-width="2.1"/>
<circle cx="1696.7" cy="1226.9" r="5.6" fill="#DCDDDF" stroke="#231F20" stroke-width="2.1"/>
<circle cx="1721.2" cy="1289.5" r="5.6" fill="#DCDDDF" stroke="#231F20" stroke-width="2.1"/>
<circle cx="1728.1" cy="1316.9" r="5.6" fill="#DCDDDF" stroke="#231F20" stroke-width="2.1"/>
<circle cx="1707.4" cy="1326.1" r="5.6" fill="#DCDDDF" stroke="#231F20" stroke-width="2.1"/>
<circle cx="1688.6" cy="1351.3" r="5.6" fill="#DCDDDF" stroke="#231F20" stroke-width="2.1"/>
<circle cx="1700.6" cy="1351.3" r="5.6" fill="#DCDDDF" stroke="#231F20" stroke-width="2.1"/>
<circle cx="1691.7" cy="1364.2" r="5.6" fill="#DCDDDF" stroke="#231F20" stroke-width="2.1"/>
<circle cx="1709.8" cy="1362.4" r="5.6" fill="#DCDDDF" stroke="#231F20" stroke-width="2.1"/>
<circle cx="1714.6" cy="1379.1" r="5.6" fill="#DCDDDF" stroke="#231F20" stroke-width="2.1"/>
<circle cx="1708.0" cy="1389.4" r="5.6" fill="#DCDDDF" stroke="#231F20" stroke-width="2.1"/>
<circle cx="1690.8" cy="1399.9" r="5.6" fill="#DCDDDF" stroke="#231F20" stroke-width="2.1"/>
<circle cx="1712.9" cy="1405.4" r="5.6" fill="#DCDDDF" stroke="#231F20" stroke-width="2.1"/>
<circle cx="1708.0" cy="1401.5" r="5.6" fill="#DCDDDF" stroke="#231F20" stroke-width="2.1"/>
<circle cx="1724.9" cy="1403.2" r="5.6" fill="#DCDDDF" stroke="#231F20" stroke-width="2.1"/>
<circle cx="1694.2" cy="1412.1" r="5.6" fill="#DCDDDF" stroke="#231F20" stroke-width="2.1"/>
<circle cx="1708.5" cy="1415.4" r="5.6" fill="#DCDDDF" stroke="#231F20" stroke-width="2.1"/>
<circle cx="1687.5" cy="1421.5" r="5.6" fill="#DCDDDF" stroke="#231F20" stroke-width="2.1"/>
<circle cx="1699.1" cy="1420.9" r="5.6" fill="#DCDDDF" stroke="#231F20" stroke-width="2.1"/>
<circle cx="1727.3" cy="1426.4" r="5.6" fill="#DCDDDF" stroke="#231F20" stroke-width="2.1"/>
<circle cx="1722.9" cy="1419.3" r="5.6" fill="#DCDDDF" stroke="#231F20" stroke-width="2.1"/>
<circle cx="1710.7" cy="1425.5" r="5.6" fill="#DCDDDF" stroke="#231F20" stroke-width="2.1"/>
<circle cx="1730.0" cy="1435.3" r="5.6" fill="#DCDDDF" stroke="#231F20" stroke-width="2.1"/>
<circle cx="1726.2" cy="1431.4" r="5.6" fill="#DCDDDF" stroke="#231F20" stroke-width="2.1"/>
<circle cx="1728.9" cy="1441.3" r="5.6" fill="#DCDDDF" stroke="#231F20" stroke-width="2.1"/>
<circle cx="1720.1" cy="1433.6" r="5.6" fill="#DCDDDF" stroke="#231F20" stroke-width="2.1"/>
<circle cx="1697.7" cy="1435.0" r="5.6" fill="#DCDDDF" stroke="#231F20" stroke-width="2.1"/>
<circle cx="1718.4" cy="1444.1" r="5.6" fill="#DCDDDF" stroke="#231F20" stroke-width="2.1"/>
<circle cx="1704.6" cy="1449.4" r="5.6" fill="#DCDDDF" stroke="#231F20" stroke-width="2.1"/>
<circle cx="1727.3" cy="1461.2" r="5.6" fill="#DCDDDF" stroke="#231F20" stroke-width="2.1"/>
<circle cx="1685.9" cy="1476.1" r="5.6" fill="#DCDDDF" stroke="#231F20" stroke-width="2.1"/>
<circle cx="1706.9" cy="1477.2" r="5.6" fill="#DCDDDF" stroke="#231F20" stroke-width="2.1"/>
<circle cx="1716.6" cy="1478.9" r="5.6" fill="#DCDDDF" stroke="#231F20" stroke-width="2.1"/>
<circle cx="1716.5" cy="1496.9" r="5.6" fill="#DCDDDF" stroke="#231F20" stroke-width="2.1"/>
<circle cx="1688.1" cy="1501.3" r="5.6" fill="#DCDDDF" stroke="#231F20" stroke-width="2.1"/>
<circle cx="1695.3" cy="1510.3" r="5.6" fill="#DCDDDF" stroke="#231F20" stroke-width="2.1"/>
<circle cx="1698.6" cy="1514.8" r="5.6" fill="#DCDDDF" stroke="#231F20" stroke-width="2.1"/>
<circle cx="1701.3" cy="1511.4" r="5.6" fill="#DCDDDF" stroke="#231F20" stroke-width="2.1"/>
<circle cx="1714.0" cy="1508.3" r="5.6" fill="#DCDDDF" stroke="#231F20" stroke-width="2.1"/>
<circle cx="1712.9" cy="1512.5" r="5.6" fill="#DCDDDF" stroke="#231F20" stroke-width="2.1"/>
<circle cx="1715.9" cy="1527.4" r="5.6" fill="#DCDDDF" stroke="#231F20" stroke-width="2.1"/>
<circle cx="1697.1" cy="1534.6" r="5.6" fill="#DCDDDF" stroke="#231F20" stroke-width="2.1"/>
<circle cx="1705.8" cy="1591.5" r="5.6" fill="#DCDDDF" stroke="#231F20" stroke-width="2.1"/>
<circle cx="1727.1" cy="1624.3" r="5.6" fill="#DCDDDF" stroke="#231F20" stroke-width="2.1"/>
<circle cx="1866.8" cy="1281.7" r="5.6" fill="#DCDDDF" stroke="#231F20" stroke-width="2.1"/>
<circle cx="1872.5" cy="1378.9" r="5.6" fill="#DCDDDF" stroke="#231F20" stroke-width="2.1"/>
<circle cx="1842.5" cy="1400.8" r="5.6" fill="#DCDDDF" stroke="#231F20" stroke-width="2.1"/>
<circle cx="1857.4" cy="1409.4" r="5.6" fill="#DCDDDF" stroke="#231F20" stroke-width="2.1"/>
<circle cx="1871.0" cy="1428.1" r="5.6" fill="#DCDDDF" stroke="#231F20" stroke-width="2.1"/>
<circle cx="1862.2" cy="1469.3" r="5.6" fill="#DCDDDF" stroke="#231F20" stroke-width="2.1"/>
<circle cx="1844.4" cy="1486.6" r="5.6" fill="#DCDDDF" stroke="#231F20" stroke-width="2.1"/>
<circle cx="1853.3" cy="1486.6" r="5.6" fill="#DCDDDF" stroke="#231F20" stroke-width="2.1"/>
<circle cx="1852.5" cy="1516.5" r="5.6" fill="#DCDDDF" stroke="#231F20" stroke-width="2.1"/>
<circle cx="1868.4" cy="1527.8" r="5.6" fill="#DCDDDF" stroke="#231F20" stroke-width="2.1"/>
<circle cx="1871.6" cy="1529.0" r="5.6" fill="#DCDDDF" stroke="#231F20" stroke-width="2.1"/>
<circle cx="1878.7" cy="1539.9" r="5.6" fill="#DCDDDF" stroke="#231F20" stroke-width="2.1"/>
<circle cx="1850.4" cy="1553.5" r="5.6" fill="#DCDDDF" stroke="#231F20" stroke-width="2.1"/>
<circle cx="1841.2" cy="1566.5" r="5.6" fill="#DCDDDF" stroke="#231F20" stroke-width="2.1"/>
<circle cx="1858.8" cy="1565.0" r="5.6" fill="#DCDDDF" stroke="#231F20" stroke-width="2.1"/>
<circle cx="1871.8" cy="1566.0" r="5.6" fill="#DCDDDF" stroke="#231F20" stroke-width="2.1"/>
<circle cx="1857.4" cy="1575.6" r="5.6" fill="#DCDDDF" stroke="#231F20" stroke-width="2.1"/>
<circle cx="1883.1" cy="1587.4" r="5.6" fill="#DCDDDF" stroke="#231F20" stroke-width="2.1"/>
<circle cx="1880.6" cy="1585.9" r="5.6" fill="#DCDDDF" stroke="#231F20" stroke-width="2.1"/>
<circle cx="1876.5" cy="1590.0" r="5.6" fill="#DCDDDF" stroke="#231F20" stroke-width="2.1"/>
<circle cx="1864.7" cy="1595.0" r="5.6" fill="#DCDDDF" stroke="#231F20" stroke-width="2.1"/>
<circle cx="1856.9" cy="1631.0" r="5.6" fill="#DCDDDF" stroke="#231F20" stroke-width="2.1"/>
<circle cx="1884.6" cy="1659.4" r="5.6" fill="#DCDDDF" stroke="#231F20" stroke-width="2.1"/>
<circle cx="1871.6" cy="1664.6" r="5.6" fill="#DCDDDF" stroke="#231F20" stroke-width="2.1"/>
<circle cx="1842.9" cy="1681.8" r="5.6" fill="#DCDDDF" stroke="#231F20" stroke-width="2.1"/>
<circle cx="1883.8" cy="1685.1" r="5.6" fill="#DCDDDF" stroke="#231F20" stroke-width="2.1"/>
<circle cx="1855.9" cy="1707.2" r="5.6" fill="#DCDDDF" stroke="#231F20" stroke-width="2.1"/>
<circle cx="1864.7" cy="1707.9" r="5.6" fill="#DCDDDF" stroke="#231F20" stroke-width="2.1"/>
<circle cx="1856.2" cy="1716.0" r="5.6" fill="#DCDDDF" stroke="#231F20" stroke-width="2.1"/>
<circle cx="1875.3" cy="1738.8" r="5.6" fill="#DCDDDF" stroke="#231F20" stroke-width="2.1"/>
<text x="1800.76" y="1203.50" font-size="26.5" textLength="127.22" lengthAdjust="spacingAndGlyphs">Slope: 0.70</text>
<text x="1802.63" y="1234.6" font-size="25.5" textLength="136.43" lengthAdjust="spacingAndGlyphs"><tspan font-style="italic">P</tspan><tspan> = 6.6e–15</tspan></text>
<text x="1534.05" y="1800.20" font-size="29.8" fill="#E41E36" textLength="37.41" lengthAdjust="spacingAndGlyphs">AA</text>
<text x="1688.10" y="1800.2" font-size="29.8" textLength="40.50" lengthAdjust="spacingAndGlyphs"><tspan fill="#E41E36">A</tspan><tspan fill="#13A4DD">C</tspan></text>
<text x="1841.69" y="1800.20" font-size="29.8" fill="#13A4DD" textLength="42.84" lengthAdjust="spacingAndGlyphs">CC</text>
<text x="1497.10" y="1834.3" font-size="29.8" textLength="111.50" lengthAdjust="spacingAndGlyphs">(<tspan font-style="italic">N</tspan> = 32)</text>
<text x="1652.40" y="1834.3" font-size="29.8" textLength="111.50" lengthAdjust="spacingAndGlyphs">(<tspan font-style="italic">N</tspan> = 44)</text>
<text x="1807.61" y="1834.3" font-size="29.8" textLength="111.08" lengthAdjust="spacingAndGlyphs">(<tspan font-style="italic">N</tspan> = 30)</text>
</svg>
</body></html>
